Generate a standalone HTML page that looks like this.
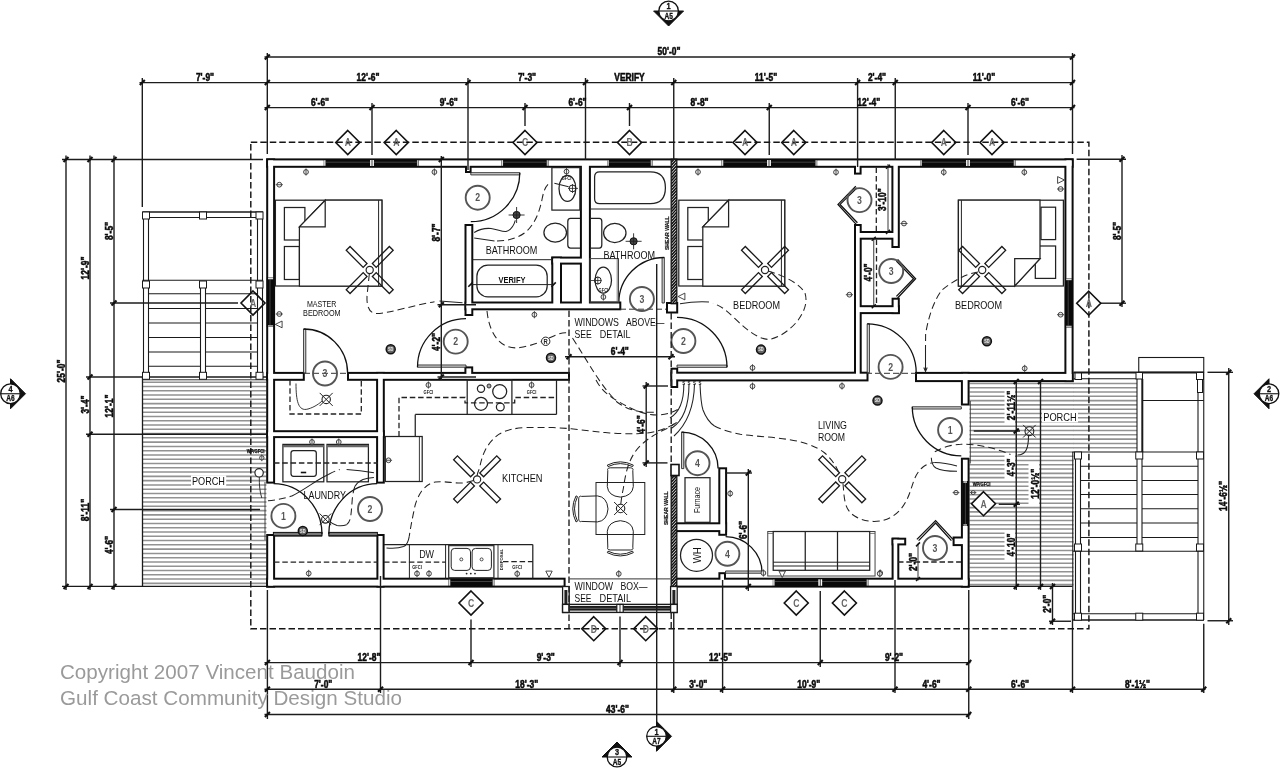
<!DOCTYPE html>
<html><head><meta charset="utf-8"><title>Floor Plan</title>
<style>html,body{margin:0;padding:0;background:#fff;}svg{display:block;will-change:transform;opacity:0.999}text{font-family:"Liberation Sans",sans-serif;}</style>
</head><body>
<svg width="1280" height="768" viewBox="0 0 1280 768">
<rect width="1280" height="768" fill="#fff"/>
<line x1="143" y1="382.2" x2="266.5" y2="382.2" stroke="#929292" stroke-width="1.55" />
<line x1="143" y1="386.48" x2="266.5" y2="386.48" stroke="#929292" stroke-width="1.55" />
<line x1="143" y1="390.76" x2="266.5" y2="390.76" stroke="#929292" stroke-width="1.55" />
<line x1="143" y1="395.04" x2="266.5" y2="395.04" stroke="#929292" stroke-width="1.55" />
<line x1="143" y1="399.32" x2="266.5" y2="399.32" stroke="#929292" stroke-width="1.55" />
<line x1="143" y1="403.6" x2="266.5" y2="403.6" stroke="#929292" stroke-width="1.55" />
<line x1="143" y1="407.88" x2="266.5" y2="407.88" stroke="#929292" stroke-width="1.55" />
<line x1="143" y1="412.16" x2="266.5" y2="412.16" stroke="#929292" stroke-width="1.55" />
<line x1="143" y1="416.44" x2="266.5" y2="416.44" stroke="#929292" stroke-width="1.55" />
<line x1="143" y1="420.72" x2="266.5" y2="420.72" stroke="#929292" stroke-width="1.55" />
<line x1="143" y1="425" x2="266.5" y2="425" stroke="#929292" stroke-width="1.55" />
<line x1="143" y1="429.28" x2="266.5" y2="429.28" stroke="#929292" stroke-width="1.55" />
<line x1="143" y1="433.56" x2="266.5" y2="433.56" stroke="#929292" stroke-width="1.55" />
<line x1="143" y1="437.84" x2="266.5" y2="437.84" stroke="#929292" stroke-width="1.55" />
<line x1="143" y1="442.12" x2="266.5" y2="442.12" stroke="#929292" stroke-width="1.55" />
<line x1="143" y1="446.4" x2="266.5" y2="446.4" stroke="#929292" stroke-width="1.55" />
<line x1="143" y1="450.68" x2="266.5" y2="450.68" stroke="#929292" stroke-width="1.55" />
<line x1="143" y1="454.96" x2="266.5" y2="454.96" stroke="#929292" stroke-width="1.55" />
<line x1="143" y1="459.24" x2="266.5" y2="459.24" stroke="#929292" stroke-width="1.55" />
<line x1="143" y1="463.52" x2="266.5" y2="463.52" stroke="#929292" stroke-width="1.55" />
<line x1="143" y1="467.8" x2="266.5" y2="467.8" stroke="#929292" stroke-width="1.55" />
<line x1="143" y1="472.08" x2="266.5" y2="472.08" stroke="#929292" stroke-width="1.55" />
<line x1="143" y1="476.36" x2="266.5" y2="476.36" stroke="#929292" stroke-width="1.55" />
<line x1="143" y1="480.64" x2="266.5" y2="480.64" stroke="#929292" stroke-width="1.55" />
<line x1="143" y1="484.92" x2="266.5" y2="484.92" stroke="#929292" stroke-width="1.55" />
<line x1="143" y1="489.2" x2="266.5" y2="489.2" stroke="#929292" stroke-width="1.55" />
<line x1="143" y1="493.48" x2="266.5" y2="493.48" stroke="#929292" stroke-width="1.55" />
<line x1="143" y1="497.76" x2="266.5" y2="497.76" stroke="#929292" stroke-width="1.55" />
<line x1="143" y1="502.04" x2="266.5" y2="502.04" stroke="#929292" stroke-width="1.55" />
<line x1="143" y1="506.32" x2="266.5" y2="506.32" stroke="#929292" stroke-width="1.55" />
<line x1="143" y1="510.6" x2="266.5" y2="510.6" stroke="#929292" stroke-width="1.55" />
<line x1="143" y1="514.88" x2="266.5" y2="514.88" stroke="#929292" stroke-width="1.55" />
<line x1="143" y1="519.16" x2="266.5" y2="519.16" stroke="#929292" stroke-width="1.55" />
<line x1="143" y1="523.44" x2="266.5" y2="523.44" stroke="#929292" stroke-width="1.55" />
<line x1="143" y1="527.72" x2="266.5" y2="527.72" stroke="#929292" stroke-width="1.55" />
<line x1="143" y1="532" x2="266.5" y2="532" stroke="#929292" stroke-width="1.55" />
<line x1="143" y1="536.28" x2="266.5" y2="536.28" stroke="#929292" stroke-width="1.55" />
<line x1="143" y1="540.56" x2="266.5" y2="540.56" stroke="#929292" stroke-width="1.55" />
<line x1="143" y1="544.84" x2="266.5" y2="544.84" stroke="#929292" stroke-width="1.55" />
<line x1="143" y1="549.12" x2="266.5" y2="549.12" stroke="#929292" stroke-width="1.55" />
<line x1="143" y1="553.4" x2="266.5" y2="553.4" stroke="#929292" stroke-width="1.55" />
<line x1="143" y1="557.68" x2="266.5" y2="557.68" stroke="#929292" stroke-width="1.55" />
<line x1="143" y1="561.96" x2="266.5" y2="561.96" stroke="#929292" stroke-width="1.55" />
<line x1="143" y1="566.24" x2="266.5" y2="566.24" stroke="#929292" stroke-width="1.55" />
<line x1="143" y1="570.52" x2="266.5" y2="570.52" stroke="#929292" stroke-width="1.55" />
<line x1="143" y1="574.8" x2="266.5" y2="574.8" stroke="#929292" stroke-width="1.55" />
<line x1="143" y1="579.08" x2="266.5" y2="579.08" stroke="#929292" stroke-width="1.55" />
<line x1="143" y1="583.36" x2="266.5" y2="583.36" stroke="#929292" stroke-width="1.55" />
<line x1="969.5" y1="383.48" x2="1073.5" y2="383.48" stroke="#929292" stroke-width="1.55" />
<line x1="969.5" y1="387.76" x2="1073.5" y2="387.76" stroke="#929292" stroke-width="1.55" />
<line x1="969.5" y1="392.04" x2="1073.5" y2="392.04" stroke="#929292" stroke-width="1.55" />
<line x1="969.5" y1="396.32" x2="1073.5" y2="396.32" stroke="#929292" stroke-width="1.55" />
<line x1="969.5" y1="400.6" x2="1073.5" y2="400.6" stroke="#929292" stroke-width="1.55" />
<line x1="969.5" y1="404.88" x2="1073.5" y2="404.88" stroke="#929292" stroke-width="1.55" />
<line x1="969.5" y1="409.16" x2="1073.5" y2="409.16" stroke="#929292" stroke-width="1.55" />
<line x1="969.5" y1="413.44" x2="1073.5" y2="413.44" stroke="#929292" stroke-width="1.55" />
<line x1="969.5" y1="417.72" x2="1073.5" y2="417.72" stroke="#929292" stroke-width="1.55" />
<line x1="969.5" y1="422" x2="1073.5" y2="422" stroke="#929292" stroke-width="1.55" />
<line x1="969.5" y1="426.28" x2="1073.5" y2="426.28" stroke="#929292" stroke-width="1.55" />
<line x1="969.5" y1="430.56" x2="1073.5" y2="430.56" stroke="#929292" stroke-width="1.55" />
<line x1="969.5" y1="434.84" x2="1073.5" y2="434.84" stroke="#929292" stroke-width="1.55" />
<line x1="969.5" y1="439.12" x2="1073.5" y2="439.12" stroke="#929292" stroke-width="1.55" />
<line x1="969.5" y1="443.4" x2="1073.5" y2="443.4" stroke="#929292" stroke-width="1.55" />
<line x1="969.5" y1="447.68" x2="1073.5" y2="447.68" stroke="#929292" stroke-width="1.55" />
<line x1="969.5" y1="451.96" x2="1073.5" y2="451.96" stroke="#929292" stroke-width="1.55" />
<line x1="969.5" y1="456.24" x2="1073.5" y2="456.24" stroke="#929292" stroke-width="1.55" />
<line x1="969.5" y1="460.52" x2="1073.5" y2="460.52" stroke="#929292" stroke-width="1.55" />
<line x1="969.5" y1="464.8" x2="1073.5" y2="464.8" stroke="#929292" stroke-width="1.55" />
<line x1="969.5" y1="469.08" x2="1073.5" y2="469.08" stroke="#929292" stroke-width="1.55" />
<line x1="969.5" y1="473.36" x2="1073.5" y2="473.36" stroke="#929292" stroke-width="1.55" />
<line x1="969.5" y1="477.64" x2="1073.5" y2="477.64" stroke="#929292" stroke-width="1.55" />
<line x1="969.5" y1="481.92" x2="1073.5" y2="481.92" stroke="#929292" stroke-width="1.55" />
<line x1="969.5" y1="486.2" x2="1073.5" y2="486.2" stroke="#929292" stroke-width="1.55" />
<line x1="969.5" y1="490.48" x2="1073.5" y2="490.48" stroke="#929292" stroke-width="1.55" />
<line x1="969.5" y1="494.76" x2="1073.5" y2="494.76" stroke="#929292" stroke-width="1.55" />
<line x1="969.5" y1="499.04" x2="1073.5" y2="499.04" stroke="#929292" stroke-width="1.55" />
<line x1="969.5" y1="503.32" x2="1073.5" y2="503.32" stroke="#929292" stroke-width="1.55" />
<line x1="969.5" y1="507.6" x2="1073.5" y2="507.6" stroke="#929292" stroke-width="1.55" />
<line x1="969.5" y1="511.88" x2="1073.5" y2="511.88" stroke="#929292" stroke-width="1.55" />
<line x1="969.5" y1="516.16" x2="1073.5" y2="516.16" stroke="#929292" stroke-width="1.55" />
<line x1="969.5" y1="520.44" x2="1073.5" y2="520.44" stroke="#929292" stroke-width="1.55" />
<line x1="969.5" y1="524.72" x2="1073.5" y2="524.72" stroke="#929292" stroke-width="1.55" />
<line x1="969.5" y1="529" x2="1073.5" y2="529" stroke="#929292" stroke-width="1.55" />
<line x1="969.5" y1="533.28" x2="1073.5" y2="533.28" stroke="#929292" stroke-width="1.55" />
<line x1="969.5" y1="537.56" x2="1073.5" y2="537.56" stroke="#929292" stroke-width="1.55" />
<line x1="969.5" y1="541.84" x2="1073.5" y2="541.84" stroke="#929292" stroke-width="1.55" />
<line x1="969.5" y1="546.12" x2="1073.5" y2="546.12" stroke="#929292" stroke-width="1.55" />
<line x1="969.5" y1="550.4" x2="1073.5" y2="550.4" stroke="#929292" stroke-width="1.55" />
<line x1="969.5" y1="554.68" x2="1073.5" y2="554.68" stroke="#929292" stroke-width="1.55" />
<line x1="969.5" y1="558.96" x2="1073.5" y2="558.96" stroke="#929292" stroke-width="1.55" />
<line x1="969.5" y1="563.24" x2="1073.5" y2="563.24" stroke="#929292" stroke-width="1.55" />
<line x1="969.5" y1="567.52" x2="1073.5" y2="567.52" stroke="#929292" stroke-width="1.55" />
<line x1="969.5" y1="571.8" x2="1073.5" y2="571.8" stroke="#929292" stroke-width="1.55" />
<line x1="969.5" y1="576.08" x2="1073.5" y2="576.08" stroke="#929292" stroke-width="1.55" />
<line x1="969.5" y1="580.36" x2="1073.5" y2="580.36" stroke="#929292" stroke-width="1.55" />
<line x1="969.5" y1="584.64" x2="1073.5" y2="584.64" stroke="#929292" stroke-width="1.55" />
<line x1="1073" y1="383.48" x2="1137" y2="383.48" stroke="#929292" stroke-width="1.55" />
<line x1="1073" y1="387.76" x2="1137" y2="387.76" stroke="#929292" stroke-width="1.55" />
<line x1="1073" y1="392.04" x2="1137" y2="392.04" stroke="#929292" stroke-width="1.55" />
<line x1="1073" y1="396.32" x2="1137" y2="396.32" stroke="#929292" stroke-width="1.55" />
<line x1="1073" y1="400.6" x2="1137" y2="400.6" stroke="#929292" stroke-width="1.55" />
<line x1="1073" y1="404.88" x2="1137" y2="404.88" stroke="#929292" stroke-width="1.55" />
<line x1="1073" y1="409.16" x2="1137" y2="409.16" stroke="#929292" stroke-width="1.55" />
<line x1="1073" y1="413.44" x2="1137" y2="413.44" stroke="#929292" stroke-width="1.55" />
<line x1="1073" y1="417.72" x2="1137" y2="417.72" stroke="#929292" stroke-width="1.55" />
<line x1="1073" y1="422" x2="1137" y2="422" stroke="#929292" stroke-width="1.55" />
<line x1="1073" y1="426.28" x2="1137" y2="426.28" stroke="#929292" stroke-width="1.55" />
<line x1="1073" y1="430.56" x2="1137" y2="430.56" stroke="#929292" stroke-width="1.55" />
<line x1="1073" y1="434.84" x2="1137" y2="434.84" stroke="#929292" stroke-width="1.55" />
<line x1="1073" y1="439.12" x2="1137" y2="439.12" stroke="#929292" stroke-width="1.55" />
<line x1="1073" y1="443.4" x2="1137" y2="443.4" stroke="#929292" stroke-width="1.55" />
<line x1="1073" y1="447.68" x2="1137" y2="447.68" stroke="#929292" stroke-width="1.55" />
<rect x="191" y="475.3" width="35.2" height="12" rx="0" stroke="none" stroke-width="0" fill="#fff" />
<rect x="1042" y="411" width="36" height="11.5" rx="0" stroke="none" stroke-width="0" fill="#fff" />
<rect x="1004.5" y="389" width="10.5" height="34" rx="0" stroke="none" stroke-width="0" fill="#fff" />
<rect x="1004.5" y="455" width="10.5" height="26" rx="0" stroke="none" stroke-width="0" fill="#fff" />
<rect x="1028.5" y="464" width="10.5" height="41" rx="0" stroke="none" stroke-width="0" fill="#fff" />
<rect x="1004.5" y="530" width="10.5" height="31" rx="0" stroke="none" stroke-width="0" fill="#fff" />
<line x1="142.5" y1="377" x2="142.5" y2="586.5" stroke="#1a1a1a" stroke-width="1.3" />
<line x1="142.5" y1="377" x2="267" y2="377" stroke="#1a1a1a" stroke-width="1.3" />
<line x1="142.5" y1="379.8" x2="267" y2="379.8" stroke="#333" stroke-width="1.0" />
<line x1="62" y1="586.4" x2="267" y2="586.4" stroke="#1a1a1a" stroke-width="1.3" />
<line x1="969" y1="586.4" x2="1072.5" y2="586.4" stroke="#1a1a1a" stroke-width="1.3" />
<text x="191.9" y="484.9" font-size="11.2" font-weight="normal" fill="#111" textLength="33.1" lengthAdjust="spacingAndGlyphs">PORCH</text>
<text x="1043.2" y="420.8" font-size="11.2" font-weight="normal" fill="#111" textLength="33.5" lengthAdjust="spacingAndGlyphs">PORCH</text>
<line x1="143.5" y1="212" x2="143.5" y2="379" stroke="#1a1a1a" stroke-width="1.1" />
<line x1="148.5" y1="212" x2="148.5" y2="379" stroke="#1a1a1a" stroke-width="1.1" />
<line x1="257.5" y1="212" x2="257.5" y2="379" stroke="#1a1a1a" stroke-width="1.1" />
<line x1="262.5" y1="212" x2="262.5" y2="379" stroke="#1a1a1a" stroke-width="1.1" />
<line x1="200.5" y1="281" x2="200.5" y2="379" stroke="#1a1a1a" stroke-width="1.1" />
<line x1="205.5" y1="281" x2="205.5" y2="379" stroke="#1a1a1a" stroke-width="1.1" />
<line x1="142.5" y1="212" x2="263" y2="212" stroke="#1a1a1a" stroke-width="1.6" />
<line x1="142.5" y1="217.5" x2="263" y2="217.5" stroke="#1a1a1a" stroke-width="1.1" />
<line x1="142.5" y1="280.3" x2="263" y2="280.3" stroke="#1a1a1a" stroke-width="1.1" />
<line x1="148.5" y1="293.75" x2="200.5" y2="293.75" stroke="#1a1a1a" stroke-width="1.1" />
<line x1="205.5" y1="293.75" x2="257.5" y2="293.75" stroke="#1a1a1a" stroke-width="1.1" />
<line x1="148.5" y1="308.5" x2="200.5" y2="308.5" stroke="#1a1a1a" stroke-width="1.1" />
<line x1="205.5" y1="308.5" x2="257.5" y2="308.5" stroke="#1a1a1a" stroke-width="1.1" />
<line x1="148.5" y1="323" x2="200.5" y2="323" stroke="#1a1a1a" stroke-width="1.1" />
<line x1="205.5" y1="323" x2="257.5" y2="323" stroke="#1a1a1a" stroke-width="1.1" />
<line x1="148.5" y1="337.5" x2="200.5" y2="337.5" stroke="#1a1a1a" stroke-width="1.1" />
<line x1="205.5" y1="337.5" x2="257.5" y2="337.5" stroke="#1a1a1a" stroke-width="1.1" />
<line x1="148.5" y1="352" x2="200.5" y2="352" stroke="#1a1a1a" stroke-width="1.1" />
<line x1="205.5" y1="352" x2="257.5" y2="352" stroke="#1a1a1a" stroke-width="1.1" />
<line x1="148.5" y1="366.25" x2="200.5" y2="366.25" stroke="#1a1a1a" stroke-width="1.1" />
<line x1="205.5" y1="366.25" x2="257.5" y2="366.25" stroke="#1a1a1a" stroke-width="1.1" />
<rect x="142.5" y="212" width="7" height="7" rx="0" stroke="#1a1a1a" stroke-width="1.0" fill="#fff" />
<rect x="142.5" y="281" width="7" height="7" rx="0" stroke="#1a1a1a" stroke-width="1.0" fill="#fff" />
<rect x="142.5" y="372.3" width="7" height="7" rx="0" stroke="#1a1a1a" stroke-width="1.0" fill="#fff" />
<rect x="199.5" y="212" width="7" height="7" rx="0" stroke="#1a1a1a" stroke-width="1.0" fill="#fff" />
<rect x="199.5" y="281" width="7" height="7" rx="0" stroke="#1a1a1a" stroke-width="1.0" fill="#fff" />
<rect x="199.5" y="372.3" width="7" height="7" rx="0" stroke="#1a1a1a" stroke-width="1.0" fill="#fff" />
<rect x="256" y="212" width="7" height="7" rx="0" stroke="#1a1a1a" stroke-width="1.0" fill="#fff" />
<rect x="256" y="281" width="7" height="7" rx="0" stroke="#1a1a1a" stroke-width="1.0" fill="#fff" />
<rect x="256" y="372.3" width="7" height="7" rx="0" stroke="#1a1a1a" stroke-width="1.0" fill="#fff" />
<rect x="1138.75" y="357.5" width="65" height="14.8" rx="0" stroke="#1a1a1a" stroke-width="1.1" fill="none" />
<line x1="1073.75" y1="372.5" x2="1204" y2="372.5" stroke="#1a1a1a" stroke-width="1.9" />
<line x1="1073.75" y1="378.8" x2="1138" y2="378.8" stroke="#1a1a1a" stroke-width="1.1" />
<line x1="1203.75" y1="372.5" x2="1203.75" y2="620" stroke="#1a1a1a" stroke-width="1.1" />
<line x1="1198" y1="379" x2="1198" y2="620" stroke="#1a1a1a" stroke-width="1.1" />
<rect x="1197.5" y="379" width="5" height="13.5" rx="0" stroke="#1a1a1a" stroke-width="1.0" fill="#fff" />
<line x1="1142.5" y1="400.5" x2="1203.75" y2="400.5" stroke="#1a1a1a" stroke-width="1.1" />
<line x1="1137" y1="379" x2="1137" y2="544" stroke="#1a1a1a" stroke-width="1.1" />
<line x1="1142" y1="379" x2="1142" y2="544" stroke="#1a1a1a" stroke-width="1.1" />
<line x1="1142.5" y1="379" x2="1142.5" y2="452" stroke="#1a1a1a" stroke-width="1.6" />
<line x1="1072.5" y1="452" x2="1203.75" y2="452" stroke="#1a1a1a" stroke-width="1.2" />
<line x1="1075.5" y1="452" x2="1075.5" y2="620" stroke="#1a1a1a" stroke-width="1.1" />
<line x1="1080.5" y1="452" x2="1080.5" y2="620" stroke="#1a1a1a" stroke-width="1.1" />
<line x1="1072.8" y1="452" x2="1072.8" y2="620" stroke="#1a1a1a" stroke-width="1.1" />
<line x1="1080.5" y1="466.25" x2="1137" y2="466.25" stroke="#1a1a1a" stroke-width="1.1" />
<line x1="1142" y1="466.25" x2="1198" y2="466.25" stroke="#1a1a1a" stroke-width="1.1" />
<line x1="1080.5" y1="480.5" x2="1137" y2="480.5" stroke="#1a1a1a" stroke-width="1.1" />
<line x1="1142" y1="480.5" x2="1198" y2="480.5" stroke="#1a1a1a" stroke-width="1.1" />
<line x1="1080.5" y1="494.5" x2="1137" y2="494.5" stroke="#1a1a1a" stroke-width="1.1" />
<line x1="1142" y1="494.5" x2="1198" y2="494.5" stroke="#1a1a1a" stroke-width="1.1" />
<line x1="1080.5" y1="508.75" x2="1137" y2="508.75" stroke="#1a1a1a" stroke-width="1.1" />
<line x1="1142" y1="508.75" x2="1198" y2="508.75" stroke="#1a1a1a" stroke-width="1.1" />
<line x1="1080.5" y1="523" x2="1137" y2="523" stroke="#1a1a1a" stroke-width="1.1" />
<line x1="1142" y1="523" x2="1198" y2="523" stroke="#1a1a1a" stroke-width="1.1" />
<line x1="1080.5" y1="537.5" x2="1137" y2="537.5" stroke="#1a1a1a" stroke-width="1.1" />
<line x1="1142" y1="537.5" x2="1198" y2="537.5" stroke="#1a1a1a" stroke-width="1.1" />
<line x1="1073" y1="551.3" x2="1203.75" y2="551.3" stroke="#1a1a1a" stroke-width="1.1" />
<line x1="1073" y1="613.75" x2="1203.75" y2="613.75" stroke="#1a1a1a" stroke-width="1.1" />
<line x1="1073" y1="620" x2="1203.75" y2="620" stroke="#1a1a1a" stroke-width="1.5" />
<rect x="1074.5" y="452" width="7" height="7" rx="0" stroke="#1a1a1a" stroke-width="1.0" fill="#fff" />
<rect x="1074.5" y="544" width="7" height="7" rx="0" stroke="#1a1a1a" stroke-width="1.0" fill="#fff" />
<rect x="1074.5" y="613.2" width="7" height="7" rx="0" stroke="#1a1a1a" stroke-width="1.0" fill="#fff" />
<rect x="1135.75" y="452" width="7" height="7" rx="0" stroke="#1a1a1a" stroke-width="1.0" fill="#fff" />
<rect x="1135.75" y="544" width="7" height="7" rx="0" stroke="#1a1a1a" stroke-width="1.0" fill="#fff" />
<rect x="1135.75" y="613.2" width="7" height="7" rx="0" stroke="#1a1a1a" stroke-width="1.0" fill="#fff" />
<rect x="1196.5" y="452" width="7" height="7" rx="0" stroke="#1a1a1a" stroke-width="1.0" fill="#fff" />
<rect x="1196.5" y="544" width="7" height="7" rx="0" stroke="#1a1a1a" stroke-width="1.0" fill="#fff" />
<rect x="1196.5" y="613.2" width="7" height="7" rx="0" stroke="#1a1a1a" stroke-width="1.0" fill="#fff" />
<rect x="1075" y="373" width="6.5" height="6.5" rx="0" stroke="#1a1a1a" stroke-width="1.0" fill="#fff" />
<rect x="1136" y="372.5" width="6.5" height="6.5" rx="0" stroke="#1a1a1a" stroke-width="1.0" fill="#fff" />
<rect x="1196.5" y="372.5" width="7" height="7" rx="0" stroke="#1a1a1a" stroke-width="1.0" fill="#fff" />
<rect x="268.2" y="160.4" width="803.4" height="5.4" rx="0" stroke="#0c0c0c" stroke-width="4.0" fill="none" />
<rect x="268.2" y="160.4" width="4.9" height="321.2" rx="0" stroke="#0c0c0c" stroke-width="4.0" fill="none" />
<rect x="268.2" y="536" width="4.9" height="49.6" rx="0" stroke="#0c0c0c" stroke-width="4.0" fill="none" />
<rect x="268.2" y="579.7" width="295.4" height="5.9" rx="0" stroke="#0c0c0c" stroke-width="4.0" fill="none" />
<rect x="677" y="579.7" width="290.6" height="5.9" rx="0" stroke="#0c0c0c" stroke-width="4.0" fill="none" />
<rect x="1066.4" y="160.4" width="5.2" height="219.7" rx="0" stroke="#0c0c0c" stroke-width="4.0" fill="none" />
<rect x="917" y="373.9" width="154.6" height="6.2" rx="0" stroke="#0c0c0c" stroke-width="4.0" fill="none" />
<rect x="962.9" y="373.9" width="4.7" height="29.6" rx="0" stroke="#0c0c0c" stroke-width="4.0" fill="none" />
<rect x="962.9" y="459.7" width="4.7" height="125.9" rx="0" stroke="#0c0c0c" stroke-width="4.0" fill="none" />
<rect x="466.5" y="226" width="4.8" height="88" rx="0" stroke="#0c0c0c" stroke-width="4.0" fill="none" />
<rect x="467" y="165" width="2.6" height="6" rx="0" stroke="#0c0c0c" stroke-width="4.0" fill="none" />
<rect x="466.5" y="303.5" width="152.8" height="4.8" rx="0" stroke="#0c0c0c" stroke-width="4.0" fill="none" />
<rect x="581.9" y="165" width="7" height="139" rx="0" stroke="#0c0c0c" stroke-width="4.0" fill="none" />
<rect x="553.3" y="258.6" width="6.7" height="45.4" rx="0" stroke="#0c0c0c" stroke-width="4.0" fill="none" />
<rect x="553.3" y="258.6" width="28.7" height="4" rx="0" stroke="#0c0c0c" stroke-width="4.0" fill="none" />
<rect x="466.4" y="368.4" width="4.8" height="6.1" rx="0" stroke="#0c0c0c" stroke-width="4.0" fill="none" />
<rect x="856" y="165" width="3.6" height="7.6" rx="0" stroke="#0c0c0c" stroke-width="4.0" fill="none" />
<rect x="856" y="226" width="3.7" height="148.5" rx="0" stroke="#0c0c0c" stroke-width="4.0" fill="none" />
<rect x="856" y="233" width="38" height="4.7" rx="0" stroke="#0c0c0c" stroke-width="4.0" fill="none" />
<rect x="893.4" y="165" width="4.4" height="81" rx="0" stroke="#0c0c0c" stroke-width="4.0" fill="none" />
<rect x="856" y="307.2" width="41.8" height="4.9" rx="0" stroke="#0c0c0c" stroke-width="4.0" fill="none" />
<rect x="893.6" y="299.7" width="4.2" height="12.4" rx="0" stroke="#0c0c0c" stroke-width="4.0" fill="none" />
<rect x="268.2" y="373.9" width="34.6" height="4.9" rx="0" stroke="#0c0c0c" stroke-width="4.0" fill="none" />
<rect x="349" y="373.9" width="219" height="4.9" rx="0" stroke="#0c0c0c" stroke-width="4.0" fill="none" />
<rect x="672.5" y="373.7" width="194" height="5.7" rx="0" stroke="#0c0c0c" stroke-width="4.0" fill="none" />
<rect x="672.5" y="369.7" width="3.7" height="16.3" rx="0" stroke="#0c0c0c" stroke-width="4.0" fill="none" />
<rect x="378.1" y="373.9" width="4.7" height="107.7" rx="0" stroke="#0c0c0c" stroke-width="4.0" fill="none" />
<rect x="268.2" y="432.2" width="114.6" height="3.9" rx="0" stroke="#0c0c0c" stroke-width="4.0" fill="none" />
<rect x="378.4" y="536" width="4.2" height="49.6" rx="0" stroke="#0c0c0c" stroke-width="4.0" fill="none" />
<rect x="720.3" y="469.3" width="4.8" height="64.5" rx="0" stroke="#0c0c0c" stroke-width="4.0" fill="none" />
<rect x="677" y="524.3" width="48.1" height="5.8" rx="0" stroke="#0c0c0c" stroke-width="4.0" fill="none" />
<rect x="720.4" y="574.2" width="3.6" height="6.3" rx="0" stroke="#0c0c0c" stroke-width="4.0" fill="none" />
<rect x="893.6" y="539.7" width="3.7" height="40.8" rx="0" stroke="#0c0c0c" stroke-width="4.0" fill="none" />
<rect x="893.6" y="539.7" width="10.6" height="3.7" rx="0" stroke="#0c0c0c" stroke-width="4.0" fill="none" />
<rect x="954.6" y="538.5" width="8.9" height="5.6" rx="0" stroke="#0c0c0c" stroke-width="4.0" fill="none" />
<rect x="668" y="304" width="8.2" height="7.5" rx="0" stroke="#0c0c0c" stroke-width="4.0" fill="none" />
<rect x="268.2" y="160.4" width="803.4" height="5.4" rx="0" stroke="none" stroke-width="0" fill="#fff" />
<rect x="268.2" y="160.4" width="4.9" height="321.2" rx="0" stroke="none" stroke-width="0" fill="#fff" />
<rect x="268.2" y="536" width="4.9" height="49.6" rx="0" stroke="none" stroke-width="0" fill="#fff" />
<rect x="268.2" y="579.7" width="295.4" height="5.9" rx="0" stroke="none" stroke-width="0" fill="#fff" />
<rect x="677" y="579.7" width="290.6" height="5.9" rx="0" stroke="none" stroke-width="0" fill="#fff" />
<rect x="1066.4" y="160.4" width="5.2" height="219.7" rx="0" stroke="none" stroke-width="0" fill="#fff" />
<rect x="917" y="373.9" width="154.6" height="6.2" rx="0" stroke="none" stroke-width="0" fill="#fff" />
<rect x="962.9" y="373.9" width="4.7" height="29.6" rx="0" stroke="none" stroke-width="0" fill="#fff" />
<rect x="962.9" y="459.7" width="4.7" height="125.9" rx="0" stroke="none" stroke-width="0" fill="#fff" />
<rect x="466.5" y="226" width="4.8" height="88" rx="0" stroke="none" stroke-width="0" fill="#fff" />
<rect x="467" y="165" width="2.6" height="6" rx="0" stroke="none" stroke-width="0" fill="#fff" />
<rect x="466.5" y="303.5" width="152.8" height="4.8" rx="0" stroke="none" stroke-width="0" fill="#fff" />
<rect x="581.9" y="165" width="7" height="139" rx="0" stroke="none" stroke-width="0" fill="#fff" />
<rect x="553.3" y="258.6" width="6.7" height="45.4" rx="0" stroke="none" stroke-width="0" fill="#fff" />
<rect x="553.3" y="258.6" width="28.7" height="4" rx="0" stroke="none" stroke-width="0" fill="#fff" />
<rect x="466.4" y="368.4" width="4.8" height="6.1" rx="0" stroke="none" stroke-width="0" fill="#fff" />
<rect x="856" y="165" width="3.6" height="7.6" rx="0" stroke="none" stroke-width="0" fill="#fff" />
<rect x="856" y="226" width="3.7" height="148.5" rx="0" stroke="none" stroke-width="0" fill="#fff" />
<rect x="856" y="233" width="38" height="4.7" rx="0" stroke="none" stroke-width="0" fill="#fff" />
<rect x="893.4" y="165" width="4.4" height="81" rx="0" stroke="none" stroke-width="0" fill="#fff" />
<rect x="856" y="307.2" width="41.8" height="4.9" rx="0" stroke="none" stroke-width="0" fill="#fff" />
<rect x="893.6" y="299.7" width="4.2" height="12.4" rx="0" stroke="none" stroke-width="0" fill="#fff" />
<rect x="268.2" y="373.9" width="34.6" height="4.9" rx="0" stroke="none" stroke-width="0" fill="#fff" />
<rect x="349" y="373.9" width="219" height="4.9" rx="0" stroke="none" stroke-width="0" fill="#fff" />
<rect x="672.5" y="373.7" width="194" height="5.7" rx="0" stroke="none" stroke-width="0" fill="#fff" />
<rect x="672.5" y="369.7" width="3.7" height="16.3" rx="0" stroke="none" stroke-width="0" fill="#fff" />
<rect x="378.1" y="373.9" width="4.7" height="107.7" rx="0" stroke="none" stroke-width="0" fill="#fff" />
<rect x="268.2" y="432.2" width="114.6" height="3.9" rx="0" stroke="none" stroke-width="0" fill="#fff" />
<rect x="378.4" y="536" width="4.2" height="49.6" rx="0" stroke="none" stroke-width="0" fill="#fff" />
<rect x="720.3" y="469.3" width="4.8" height="64.5" rx="0" stroke="none" stroke-width="0" fill="#fff" />
<rect x="677" y="524.3" width="48.1" height="5.8" rx="0" stroke="none" stroke-width="0" fill="#fff" />
<rect x="720.4" y="574.2" width="3.6" height="6.3" rx="0" stroke="none" stroke-width="0" fill="#fff" />
<rect x="893.6" y="539.7" width="3.7" height="40.8" rx="0" stroke="none" stroke-width="0" fill="#fff" />
<rect x="893.6" y="539.7" width="10.6" height="3.7" rx="0" stroke="none" stroke-width="0" fill="#fff" />
<rect x="954.6" y="538.5" width="8.9" height="5.6" rx="0" stroke="none" stroke-width="0" fill="#fff" />
<rect x="668" y="304" width="8.2" height="7.5" rx="0" stroke="none" stroke-width="0" fill="#fff" />
<rect x="671.2" y="159.3" width="5.6" height="144.4" rx="0" stroke="#111" stroke-width="1.3" fill="#fff" />
<clipPath id="c671_159"><rect x="671.2" y="159.3" width="5.6" height="144.4"/></clipPath>
<line x1="671.2" y1="159.3" x2="676.8" y2="153.14" stroke="#111" stroke-width="1.5" clip-path="url(#c671_159)"/>
<line x1="671.2" y1="162.4" x2="676.8" y2="156.24" stroke="#111" stroke-width="1.5" clip-path="url(#c671_159)"/>
<line x1="671.2" y1="165.5" x2="676.8" y2="159.34" stroke="#111" stroke-width="1.5" clip-path="url(#c671_159)"/>
<line x1="671.2" y1="168.6" x2="676.8" y2="162.44" stroke="#111" stroke-width="1.5" clip-path="url(#c671_159)"/>
<line x1="671.2" y1="171.7" x2="676.8" y2="165.54" stroke="#111" stroke-width="1.5" clip-path="url(#c671_159)"/>
<line x1="671.2" y1="174.8" x2="676.8" y2="168.64" stroke="#111" stroke-width="1.5" clip-path="url(#c671_159)"/>
<line x1="671.2" y1="177.9" x2="676.8" y2="171.74" stroke="#111" stroke-width="1.5" clip-path="url(#c671_159)"/>
<line x1="671.2" y1="181" x2="676.8" y2="174.84" stroke="#111" stroke-width="1.5" clip-path="url(#c671_159)"/>
<line x1="671.2" y1="184.1" x2="676.8" y2="177.94" stroke="#111" stroke-width="1.5" clip-path="url(#c671_159)"/>
<line x1="671.2" y1="187.2" x2="676.8" y2="181.04" stroke="#111" stroke-width="1.5" clip-path="url(#c671_159)"/>
<line x1="671.2" y1="190.3" x2="676.8" y2="184.14" stroke="#111" stroke-width="1.5" clip-path="url(#c671_159)"/>
<line x1="671.2" y1="193.4" x2="676.8" y2="187.24" stroke="#111" stroke-width="1.5" clip-path="url(#c671_159)"/>
<line x1="671.2" y1="196.5" x2="676.8" y2="190.34" stroke="#111" stroke-width="1.5" clip-path="url(#c671_159)"/>
<line x1="671.2" y1="199.6" x2="676.8" y2="193.44" stroke="#111" stroke-width="1.5" clip-path="url(#c671_159)"/>
<line x1="671.2" y1="202.7" x2="676.8" y2="196.54" stroke="#111" stroke-width="1.5" clip-path="url(#c671_159)"/>
<line x1="671.2" y1="205.8" x2="676.8" y2="199.64" stroke="#111" stroke-width="1.5" clip-path="url(#c671_159)"/>
<line x1="671.2" y1="208.9" x2="676.8" y2="202.74" stroke="#111" stroke-width="1.5" clip-path="url(#c671_159)"/>
<line x1="671.2" y1="212" x2="676.8" y2="205.84" stroke="#111" stroke-width="1.5" clip-path="url(#c671_159)"/>
<line x1="671.2" y1="215.1" x2="676.8" y2="208.94" stroke="#111" stroke-width="1.5" clip-path="url(#c671_159)"/>
<line x1="671.2" y1="218.2" x2="676.8" y2="212.04" stroke="#111" stroke-width="1.5" clip-path="url(#c671_159)"/>
<line x1="671.2" y1="221.3" x2="676.8" y2="215.14" stroke="#111" stroke-width="1.5" clip-path="url(#c671_159)"/>
<line x1="671.2" y1="224.4" x2="676.8" y2="218.24" stroke="#111" stroke-width="1.5" clip-path="url(#c671_159)"/>
<line x1="671.2" y1="227.5" x2="676.8" y2="221.34" stroke="#111" stroke-width="1.5" clip-path="url(#c671_159)"/>
<line x1="671.2" y1="230.6" x2="676.8" y2="224.44" stroke="#111" stroke-width="1.5" clip-path="url(#c671_159)"/>
<line x1="671.2" y1="233.7" x2="676.8" y2="227.54" stroke="#111" stroke-width="1.5" clip-path="url(#c671_159)"/>
<line x1="671.2" y1="236.8" x2="676.8" y2="230.64" stroke="#111" stroke-width="1.5" clip-path="url(#c671_159)"/>
<line x1="671.2" y1="239.9" x2="676.8" y2="233.74" stroke="#111" stroke-width="1.5" clip-path="url(#c671_159)"/>
<line x1="671.2" y1="243" x2="676.8" y2="236.84" stroke="#111" stroke-width="1.5" clip-path="url(#c671_159)"/>
<line x1="671.2" y1="246.1" x2="676.8" y2="239.94" stroke="#111" stroke-width="1.5" clip-path="url(#c671_159)"/>
<line x1="671.2" y1="249.2" x2="676.8" y2="243.04" stroke="#111" stroke-width="1.5" clip-path="url(#c671_159)"/>
<line x1="671.2" y1="252.3" x2="676.8" y2="246.14" stroke="#111" stroke-width="1.5" clip-path="url(#c671_159)"/>
<line x1="671.2" y1="255.4" x2="676.8" y2="249.24" stroke="#111" stroke-width="1.5" clip-path="url(#c671_159)"/>
<line x1="671.2" y1="258.5" x2="676.8" y2="252.34" stroke="#111" stroke-width="1.5" clip-path="url(#c671_159)"/>
<line x1="671.2" y1="261.6" x2="676.8" y2="255.44" stroke="#111" stroke-width="1.5" clip-path="url(#c671_159)"/>
<line x1="671.2" y1="264.7" x2="676.8" y2="258.54" stroke="#111" stroke-width="1.5" clip-path="url(#c671_159)"/>
<line x1="671.2" y1="267.8" x2="676.8" y2="261.64" stroke="#111" stroke-width="1.5" clip-path="url(#c671_159)"/>
<line x1="671.2" y1="270.9" x2="676.8" y2="264.74" stroke="#111" stroke-width="1.5" clip-path="url(#c671_159)"/>
<line x1="671.2" y1="274" x2="676.8" y2="267.84" stroke="#111" stroke-width="1.5" clip-path="url(#c671_159)"/>
<line x1="671.2" y1="277.1" x2="676.8" y2="270.94" stroke="#111" stroke-width="1.5" clip-path="url(#c671_159)"/>
<line x1="671.2" y1="280.2" x2="676.8" y2="274.04" stroke="#111" stroke-width="1.5" clip-path="url(#c671_159)"/>
<line x1="671.2" y1="283.3" x2="676.8" y2="277.14" stroke="#111" stroke-width="1.5" clip-path="url(#c671_159)"/>
<line x1="671.2" y1="286.4" x2="676.8" y2="280.24" stroke="#111" stroke-width="1.5" clip-path="url(#c671_159)"/>
<line x1="671.2" y1="289.5" x2="676.8" y2="283.34" stroke="#111" stroke-width="1.5" clip-path="url(#c671_159)"/>
<line x1="671.2" y1="292.6" x2="676.8" y2="286.44" stroke="#111" stroke-width="1.5" clip-path="url(#c671_159)"/>
<line x1="671.2" y1="295.7" x2="676.8" y2="289.54" stroke="#111" stroke-width="1.5" clip-path="url(#c671_159)"/>
<line x1="671.2" y1="298.8" x2="676.8" y2="292.64" stroke="#111" stroke-width="1.5" clip-path="url(#c671_159)"/>
<line x1="671.2" y1="301.9" x2="676.8" y2="295.74" stroke="#111" stroke-width="1.5" clip-path="url(#c671_159)"/>
<line x1="671.2" y1="305" x2="676.8" y2="298.84" stroke="#111" stroke-width="1.5" clip-path="url(#c671_159)"/>
<line x1="671.2" y1="308.1" x2="676.8" y2="301.94" stroke="#111" stroke-width="1.5" clip-path="url(#c671_159)"/>
<rect x="671.2" y="476" width="5.6" height="110.5" rx="0" stroke="#111" stroke-width="1.3" fill="#fff" />
<clipPath id="c671_476"><rect x="671.2" y="476" width="5.6" height="110.5"/></clipPath>
<line x1="671.2" y1="476" x2="676.8" y2="469.84" stroke="#111" stroke-width="1.5" clip-path="url(#c671_476)"/>
<line x1="671.2" y1="479.1" x2="676.8" y2="472.94" stroke="#111" stroke-width="1.5" clip-path="url(#c671_476)"/>
<line x1="671.2" y1="482.2" x2="676.8" y2="476.04" stroke="#111" stroke-width="1.5" clip-path="url(#c671_476)"/>
<line x1="671.2" y1="485.3" x2="676.8" y2="479.14" stroke="#111" stroke-width="1.5" clip-path="url(#c671_476)"/>
<line x1="671.2" y1="488.4" x2="676.8" y2="482.24" stroke="#111" stroke-width="1.5" clip-path="url(#c671_476)"/>
<line x1="671.2" y1="491.5" x2="676.8" y2="485.34" stroke="#111" stroke-width="1.5" clip-path="url(#c671_476)"/>
<line x1="671.2" y1="494.6" x2="676.8" y2="488.44" stroke="#111" stroke-width="1.5" clip-path="url(#c671_476)"/>
<line x1="671.2" y1="497.7" x2="676.8" y2="491.54" stroke="#111" stroke-width="1.5" clip-path="url(#c671_476)"/>
<line x1="671.2" y1="500.8" x2="676.8" y2="494.64" stroke="#111" stroke-width="1.5" clip-path="url(#c671_476)"/>
<line x1="671.2" y1="503.9" x2="676.8" y2="497.74" stroke="#111" stroke-width="1.5" clip-path="url(#c671_476)"/>
<line x1="671.2" y1="507" x2="676.8" y2="500.84" stroke="#111" stroke-width="1.5" clip-path="url(#c671_476)"/>
<line x1="671.2" y1="510.1" x2="676.8" y2="503.94" stroke="#111" stroke-width="1.5" clip-path="url(#c671_476)"/>
<line x1="671.2" y1="513.2" x2="676.8" y2="507.04" stroke="#111" stroke-width="1.5" clip-path="url(#c671_476)"/>
<line x1="671.2" y1="516.3" x2="676.8" y2="510.14" stroke="#111" stroke-width="1.5" clip-path="url(#c671_476)"/>
<line x1="671.2" y1="519.4" x2="676.8" y2="513.24" stroke="#111" stroke-width="1.5" clip-path="url(#c671_476)"/>
<line x1="671.2" y1="522.5" x2="676.8" y2="516.34" stroke="#111" stroke-width="1.5" clip-path="url(#c671_476)"/>
<line x1="671.2" y1="525.6" x2="676.8" y2="519.44" stroke="#111" stroke-width="1.5" clip-path="url(#c671_476)"/>
<line x1="671.2" y1="528.7" x2="676.8" y2="522.54" stroke="#111" stroke-width="1.5" clip-path="url(#c671_476)"/>
<line x1="671.2" y1="531.8" x2="676.8" y2="525.64" stroke="#111" stroke-width="1.5" clip-path="url(#c671_476)"/>
<line x1="671.2" y1="534.9" x2="676.8" y2="528.74" stroke="#111" stroke-width="1.5" clip-path="url(#c671_476)"/>
<line x1="671.2" y1="538" x2="676.8" y2="531.84" stroke="#111" stroke-width="1.5" clip-path="url(#c671_476)"/>
<line x1="671.2" y1="541.1" x2="676.8" y2="534.94" stroke="#111" stroke-width="1.5" clip-path="url(#c671_476)"/>
<line x1="671.2" y1="544.2" x2="676.8" y2="538.04" stroke="#111" stroke-width="1.5" clip-path="url(#c671_476)"/>
<line x1="671.2" y1="547.3" x2="676.8" y2="541.14" stroke="#111" stroke-width="1.5" clip-path="url(#c671_476)"/>
<line x1="671.2" y1="550.4" x2="676.8" y2="544.24" stroke="#111" stroke-width="1.5" clip-path="url(#c671_476)"/>
<line x1="671.2" y1="553.5" x2="676.8" y2="547.34" stroke="#111" stroke-width="1.5" clip-path="url(#c671_476)"/>
<line x1="671.2" y1="556.6" x2="676.8" y2="550.44" stroke="#111" stroke-width="1.5" clip-path="url(#c671_476)"/>
<line x1="671.2" y1="559.7" x2="676.8" y2="553.54" stroke="#111" stroke-width="1.5" clip-path="url(#c671_476)"/>
<line x1="671.2" y1="562.8" x2="676.8" y2="556.64" stroke="#111" stroke-width="1.5" clip-path="url(#c671_476)"/>
<line x1="671.2" y1="565.9" x2="676.8" y2="559.74" stroke="#111" stroke-width="1.5" clip-path="url(#c671_476)"/>
<line x1="671.2" y1="569" x2="676.8" y2="562.84" stroke="#111" stroke-width="1.5" clip-path="url(#c671_476)"/>
<line x1="671.2" y1="572.1" x2="676.8" y2="565.94" stroke="#111" stroke-width="1.5" clip-path="url(#c671_476)"/>
<line x1="671.2" y1="575.2" x2="676.8" y2="569.04" stroke="#111" stroke-width="1.5" clip-path="url(#c671_476)"/>
<line x1="671.2" y1="578.3" x2="676.8" y2="572.14" stroke="#111" stroke-width="1.5" clip-path="url(#c671_476)"/>
<line x1="671.2" y1="581.4" x2="676.8" y2="575.24" stroke="#111" stroke-width="1.5" clip-path="url(#c671_476)"/>
<line x1="671.2" y1="584.5" x2="676.8" y2="578.34" stroke="#111" stroke-width="1.5" clip-path="url(#c671_476)"/>
<line x1="671.2" y1="587.6" x2="676.8" y2="581.44" stroke="#111" stroke-width="1.5" clip-path="url(#c671_476)"/>
<line x1="671.2" y1="590.7" x2="676.8" y2="584.54" stroke="#111" stroke-width="1.5" clip-path="url(#c671_476)"/>
<rect x="671" y="464.5" width="8" height="11" rx="0" stroke="#111" stroke-width="1.6" fill="#fff" />
<rect x="273.4" y="532.4" width="48.6" height="3.4" rx="0" stroke="#111" stroke-width="1.0" fill="#777" />
<rect x="328.8" y="532.4" width="48.6" height="3.4" rx="0" stroke="#111" stroke-width="1.0" fill="#777" />
<line x1="273.4" y1="536" x2="322" y2="536" stroke="#111" stroke-width="1.0" />
<line x1="328.8" y1="536" x2="377.4" y2="536" stroke="#111" stroke-width="1.0" />
<rect x="323.75" y="159" width="95" height="8" rx="0" stroke="none" stroke-width="0" fill="#0a0a0a" />
<line x1="325.75" y1="162.2" x2="416.75" y2="162.2" stroke="#666" stroke-width="0.6" />
<rect x="324.05" y="160.2" width="1.5" height="5.6" rx="0" stroke="none" stroke-width="0" fill="#ddd" />
<rect x="416.95" y="160.2" width="1.5" height="5.6" rx="0" stroke="none" stroke-width="0" fill="#bbb" />
<rect x="370.1" y="160" width="3.8" height="6" rx="0" stroke="none" stroke-width="0" fill="#fff" />
<line x1="372" y1="159.6" x2="372" y2="166.6" stroke="#222" stroke-width="0.9" />
<rect x="501.25" y="159" width="47.25" height="8" rx="0" stroke="none" stroke-width="0" fill="#0a0a0a" />
<line x1="503.25" y1="162.2" x2="546.5" y2="162.2" stroke="#666" stroke-width="0.6" />
<rect x="501.55" y="160.2" width="1.5" height="5.6" rx="0" stroke="none" stroke-width="0" fill="#ddd" />
<rect x="546.7" y="160.2" width="1.5" height="5.6" rx="0" stroke="none" stroke-width="0" fill="#bbb" />
<rect x="607" y="159" width="45.5" height="8" rx="0" stroke="none" stroke-width="0" fill="#0a0a0a" />
<line x1="609" y1="162.2" x2="650.5" y2="162.2" stroke="#666" stroke-width="0.6" />
<rect x="607.3" y="160.2" width="1.5" height="5.6" rx="0" stroke="none" stroke-width="0" fill="#ddd" />
<rect x="650.7" y="160.2" width="1.5" height="5.6" rx="0" stroke="none" stroke-width="0" fill="#bbb" />
<rect x="721.5" y="159" width="95.7" height="8" rx="0" stroke="none" stroke-width="0" fill="#0a0a0a" />
<line x1="723.5" y1="162.2" x2="815.2" y2="162.2" stroke="#666" stroke-width="0.6" />
<rect x="721.8" y="160.2" width="1.5" height="5.6" rx="0" stroke="none" stroke-width="0" fill="#ddd" />
<rect x="815.4" y="160.2" width="1.5" height="5.6" rx="0" stroke="none" stroke-width="0" fill="#bbb" />
<rect x="767.1" y="160" width="3.8" height="6" rx="0" stroke="none" stroke-width="0" fill="#fff" />
<line x1="769" y1="159.6" x2="769" y2="166.6" stroke="#222" stroke-width="0.9" />
<rect x="920" y="159" width="95.5" height="8" rx="0" stroke="none" stroke-width="0" fill="#0a0a0a" />
<line x1="922" y1="162.2" x2="1013.5" y2="162.2" stroke="#666" stroke-width="0.6" />
<rect x="920.3" y="160.2" width="1.5" height="5.6" rx="0" stroke="none" stroke-width="0" fill="#ddd" />
<rect x="1013.7" y="160.2" width="1.5" height="5.6" rx="0" stroke="none" stroke-width="0" fill="#bbb" />
<rect x="966.1" y="160" width="3.8" height="6" rx="0" stroke="none" stroke-width="0" fill="#fff" />
<line x1="968" y1="159.6" x2="968" y2="166.6" stroke="#222" stroke-width="0.9" />
<rect x="448.5" y="578.3" width="45.9" height="8.5" rx="0" stroke="none" stroke-width="0" fill="#0a0a0a" />
<line x1="450.5" y1="581.5" x2="492.4" y2="581.5" stroke="#666" stroke-width="0.6" />
<rect x="448.8" y="579.5" width="1.5" height="6.1" rx="0" stroke="none" stroke-width="0" fill="#ddd" />
<rect x="492.6" y="579.5" width="1.5" height="6.1" rx="0" stroke="none" stroke-width="0" fill="#bbb" />
<rect x="772.8" y="578.3" width="95.6" height="8.5" rx="0" stroke="none" stroke-width="0" fill="#0a0a0a" />
<line x1="774.8" y1="581.5" x2="866.4" y2="581.5" stroke="#666" stroke-width="0.6" />
<rect x="773.1" y="579.5" width="1.5" height="6.1" rx="0" stroke="none" stroke-width="0" fill="#ddd" />
<rect x="866.6" y="579.5" width="1.5" height="6.1" rx="0" stroke="none" stroke-width="0" fill="#bbb" />
<rect x="818.35" y="579.3" width="3.8" height="6.5" rx="0" stroke="none" stroke-width="0" fill="#fff" />
<line x1="820.25" y1="578.9" x2="820.25" y2="586.4" stroke="#222" stroke-width="0.9" />
<rect x="266.8" y="277.5" width="7.5" height="49.5" rx="0" stroke="none" stroke-width="0" fill="#0a0a0a" />
<line x1="270" y1="279.5" x2="270" y2="325" stroke="#666" stroke-width="0.6" />
<rect x="268" y="277.8" width="5.1" height="1.5" rx="0" stroke="none" stroke-width="0" fill="#ddd" />
<rect x="268" y="325.2" width="5.1" height="1.5" rx="0" stroke="none" stroke-width="0" fill="#bbb" />
<rect x="1065" y="278.4" width="7.8" height="49.1" rx="0" stroke="none" stroke-width="0" fill="#0a0a0a" />
<line x1="1068.2" y1="280.4" x2="1068.2" y2="325.5" stroke="#666" stroke-width="0.6" />
<rect x="1066.2" y="278.7" width="5.4" height="1.5" rx="0" stroke="none" stroke-width="0" fill="#ddd" />
<rect x="1066.2" y="325.7" width="5.4" height="1.5" rx="0" stroke="none" stroke-width="0" fill="#bbb" />
<rect x="962.2" y="481" width="6" height="45" rx="0" stroke="none" stroke-width="0" fill="#0a0a0a" />
<line x1="965.4" y1="483" x2="965.4" y2="524" stroke="#666" stroke-width="0.6" />
<rect x="963.4" y="481.3" width="3.6" height="1.5" rx="0" stroke="none" stroke-width="0" fill="#ddd" />
<rect x="963.4" y="524.2" width="3.6" height="1.5" rx="0" stroke="none" stroke-width="0" fill="#bbb" />
<rect x="562.6" y="586.5" width="6.6" height="26" rx="0" stroke="#1a1a1a" stroke-width="1.3" fill="#fff" />
<rect x="670.6" y="586.5" width="6.6" height="26" rx="0" stroke="#1a1a1a" stroke-width="1.3" fill="#fff" />
<rect x="564.4" y="590" width="3" height="14" rx="0" stroke="none" stroke-width="0" fill="#222" />
<rect x="672.4" y="590" width="3" height="14" rx="0" stroke="none" stroke-width="0" fill="#222" />
<rect x="562.6" y="604.4" width="114.6" height="8" rx="0" stroke="#1a1a1a" stroke-width="1.4" fill="#fff" />
<rect x="569.5" y="606" width="100.5" height="4.6" rx="0" stroke="none" stroke-width="0" fill="#1a1a1a" />
<line x1="569.5" y1="608.3" x2="670" y2="608.3" stroke="#aaa" stroke-width="0.5" />
<rect x="562.6" y="604.4" width="6.6" height="8" rx="0" stroke="#1a1a1a" stroke-width="1.3" fill="#fff" />
<rect x="670.6" y="604.4" width="6.6" height="8" rx="0" stroke="#1a1a1a" stroke-width="1.3" fill="#fff" />
<rect x="616.8" y="604.4" width="6.4" height="8" rx="0" stroke="#1a1a1a" stroke-width="1.2" fill="#fff" />
<line x1="620" y1="604.4" x2="620" y2="612.4" stroke="#1a1a1a" stroke-width="0.9" />
<line x1="569.4" y1="578.9" x2="670.6" y2="578.9" stroke="#333" stroke-width="1.0" />
<path d="M470.8 172.7 L519.8 172.7 L519.8 174.9 L470.8 174.9 Z" stroke="#222" stroke-width="0.9" fill="#ddd" />
<path d="M519.8 172.7 A49 49 0 0 1 470.8 221.7" stroke="#111" stroke-width="1.3" fill="none" />
<path d="M466 367.2 L417.5 367.2 L417.5 365 L466 365 Z" stroke="#222" stroke-width="0.9" fill="#ddd" />
<path d="M417.5 367.2 A48.5 48.5 0 0 1 466 318.7" stroke="#111" stroke-width="1.3" fill="none" />
<path d="M303.6 373 L303.6 329 L305.8 329 L305.8 373 Z" stroke="#222" stroke-width="0.9" fill="#ddd" />
<path d="M303.6 329 A44 44 0 0 1 347.6 373" stroke="#111" stroke-width="1.3" fill="none" />
<path d="M664.3 303 L664.3 257.5 L662.1 257.5 L662.1 303 Z" stroke="#222" stroke-width="0.9" fill="#ddd" />
<path d="M664.3 257.5 A45.5 45.5 0 0 0 618.8 303" stroke="#111" stroke-width="1.3" fill="none" />
<path d="M677 367.3 L727 367.3 L727 365.1 L677 365.1 Z" stroke="#222" stroke-width="0.9" fill="#ddd" />
<path d="M727 367.3 A50 50 0 0 0 677 317.3" stroke="#111" stroke-width="1.3" fill="none" />
<path d="M867.2 372.8 L867.2 323.8 L869.4 323.8 L869.4 372.8 Z" stroke="#222" stroke-width="0.9" fill="#ddd" />
<path d="M867.2 323.8 A49 49 0 0 1 916.2 372.8" stroke="#111" stroke-width="1.3" fill="none" />
<path d="M961.3 406.8 L912.3 406.8 L912.3 409 L961.3 409 Z" stroke="#222" stroke-width="0.9" fill="#ddd" />
<path d="M912.3 406.8 A49 49 0 0 0 961.3 455.8" stroke="#111" stroke-width="1.3" fill="none" />
<path d="M273.6 483.7 A48.6 50.6 0 0 1 322 534.3" stroke="#111" stroke-width="1.3" fill="none" />
<path d="M377.2 483.7 A48.6 50.6 0 0 0 328.8 534.3" stroke="#111" stroke-width="1.3" fill="none" />
<path d="M681.6 468.6 L681.6 432.1 L683.8 432.1 L683.8 468.6 Z" stroke="#222" stroke-width="0.9" fill="#ddd" />
<path d="M681.6 432.1 A36.5 36.5 0 0 1 718.1 468.6" stroke="#111" stroke-width="1.3" fill="none" />
<path d="M725.6 573.2 L762.1 573.2 L762.1 571 L725.6 571 Z" stroke="#222" stroke-width="0.9" fill="#ddd" />
<path d="M762.1 573.2 A36.5 36.5 0 0 0 725.6 536.7" stroke="#111" stroke-width="1.3" fill="none" />
<line x1="265" y1="482" x2="265" y2="540" stroke="#333" stroke-width="0.9" />
<line x1="970.3" y1="401" x2="970.3" y2="463.5" stroke="#333" stroke-width="0.9" />
<line x1="304" y1="373.3" x2="348" y2="373.3" stroke="#333" stroke-width="1" stroke-dasharray="6 3"/>
<line x1="620" y1="309.2" x2="666" y2="309.2" stroke="#333" stroke-width="1" stroke-dasharray="6 3"/>
<line x1="866" y1="373.3" x2="916" y2="373.3" stroke="#333" stroke-width="1" stroke-dasharray="6 3"/>
<path d="M855.8 186.3 L838 204.4 L856.2 224.4" stroke="#111" stroke-width="1.3" fill="none" />
<path d="M857 187.9 L840.04 204.4 L857.4 222.8" stroke="#111" stroke-width="1.3" fill="none" />
<path d="M897.6 259.4 L915.6 278.7 L897.6 298" stroke="#111" stroke-width="1.3" fill="none" />
<path d="M896.4 261 L913.56 278.7 L896.4 296.4" stroke="#111" stroke-width="1.3" fill="none" />
<path d="M916.9 539.4 L935.6 520.6 L953 539.4" stroke="#111" stroke-width="1.3" fill="none" />
<path d="M918.6 540.6 L935.6 523 L951.4 540.6" stroke="#111" stroke-width="1.3" fill="none" />
<rect x="275.4" y="200.2" width="106.5" height="85.8" rx="0" stroke="#222" stroke-width="1.25" fill="none" />
<rect x="284.4" y="207.5" width="20.5" height="32.5" rx="0" stroke="#222" stroke-width="1.25" fill="none" />
<rect x="284.4" y="246.5" width="15" height="33" rx="0" stroke="#222" stroke-width="1.25" fill="none" />
<path d="M299.4 286 L299.4 226.9 L325.2 200.2 L381.9 200.2 L381.9 286 Z" stroke="#222" stroke-width="1.25" fill="#fff" />
<path d="M299.4 226.9 L325.2 226.9 L325.2 200.2 Z" stroke="#222" stroke-width="1.25" fill="#fff" />
<line x1="378.6" y1="200.2" x2="378.6" y2="286" stroke="#222" stroke-width="1.0" />
<rect x="678.8" y="200.2" width="105.9" height="85.8" rx="0" stroke="#222" stroke-width="1.25" fill="none" />
<rect x="687.8" y="207.5" width="20.5" height="32.5" rx="0" stroke="#222" stroke-width="1.25" fill="none" />
<rect x="687.8" y="246.5" width="15" height="33" rx="0" stroke="#222" stroke-width="1.25" fill="none" />
<path d="M702.8 286 L702.8 226.9 L728.6 200.2 L784.7 200.2 L784.7 286 Z" stroke="#222" stroke-width="1.25" fill="#fff" />
<path d="M702.8 226.9 L728.6 226.9 L728.6 200.2 Z" stroke="#222" stroke-width="1.25" fill="#fff" />
<line x1="781.4" y1="200.2" x2="781.4" y2="286" stroke="#222" stroke-width="1.0" />
<rect x="958.4" y="200.2" width="105" height="85.8" rx="0" stroke="#222" stroke-width="1.25" fill="none" />
<rect x="1041" y="207.2" width="14.6" height="32.4" rx="0" stroke="#222" stroke-width="1.25" fill="none" />
<rect x="1035.3" y="246" width="20.3" height="32.4" rx="0" stroke="#222" stroke-width="1.25" fill="none" />
<path d="M1040 200.2 L1040 258.7 L1014.7 286 L958.4 286 L958.4 200.2 Z" stroke="#222" stroke-width="1.25" fill="#fff" />
<path d="M1040 258.7 L1014.7 258.7 L1014.7 286 Z" stroke="#222" stroke-width="1.25" fill="#fff" />
<line x1="961.4" y1="200.2" x2="961.4" y2="286" stroke="#222" stroke-width="1.0" />
<circle cx="369.7" cy="270" r="3.6" stroke="#222" stroke-width="1.2" fill="#fff"/>
<rect x="376.2" y="267.3" width="24" height="5.4" fill="none" stroke="#1a1a1a" stroke-width="1.3" transform="rotate(45 369.7 270)"/>
<rect x="376.2" y="267.3" width="24" height="5.4" fill="none" stroke="#1a1a1a" stroke-width="1.3" transform="rotate(135 369.7 270)"/>
<rect x="376.2" y="267.3" width="24" height="5.4" fill="none" stroke="#1a1a1a" stroke-width="1.3" transform="rotate(225 369.7 270)"/>
<rect x="376.2" y="267.3" width="24" height="5.4" fill="none" stroke="#1a1a1a" stroke-width="1.3" transform="rotate(315 369.7 270)"/>
<circle cx="765" cy="270" r="3.6" stroke="#222" stroke-width="1.2" fill="#fff"/>
<rect x="771.5" y="267.3" width="24" height="5.4" fill="none" stroke="#1a1a1a" stroke-width="1.3" transform="rotate(45 765 270)"/>
<rect x="771.5" y="267.3" width="24" height="5.4" fill="none" stroke="#1a1a1a" stroke-width="1.3" transform="rotate(135 765 270)"/>
<rect x="771.5" y="267.3" width="24" height="5.4" fill="none" stroke="#1a1a1a" stroke-width="1.3" transform="rotate(225 765 270)"/>
<rect x="771.5" y="267.3" width="24" height="5.4" fill="none" stroke="#1a1a1a" stroke-width="1.3" transform="rotate(315 765 270)"/>
<circle cx="982.2" cy="270" r="3.6" stroke="#222" stroke-width="1.2" fill="#fff"/>
<rect x="988.7" y="267.3" width="24" height="5.4" fill="none" stroke="#1a1a1a" stroke-width="1.3" transform="rotate(45 982.2 270)"/>
<rect x="988.7" y="267.3" width="24" height="5.4" fill="none" stroke="#1a1a1a" stroke-width="1.3" transform="rotate(135 982.2 270)"/>
<rect x="988.7" y="267.3" width="24" height="5.4" fill="none" stroke="#1a1a1a" stroke-width="1.3" transform="rotate(225 982.2 270)"/>
<rect x="988.7" y="267.3" width="24" height="5.4" fill="none" stroke="#1a1a1a" stroke-width="1.3" transform="rotate(315 982.2 270)"/>
<circle cx="477.1" cy="479.4" r="3.6" stroke="#222" stroke-width="1.2" fill="#fff"/>
<rect x="483.6" y="476.7" width="24" height="5.4" fill="none" stroke="#1a1a1a" stroke-width="1.3" transform="rotate(45 477.1 479.4)"/>
<rect x="483.6" y="476.7" width="24" height="5.4" fill="none" stroke="#1a1a1a" stroke-width="1.3" transform="rotate(135 477.1 479.4)"/>
<rect x="483.6" y="476.7" width="24" height="5.4" fill="none" stroke="#1a1a1a" stroke-width="1.3" transform="rotate(225 477.1 479.4)"/>
<rect x="483.6" y="476.7" width="24" height="5.4" fill="none" stroke="#1a1a1a" stroke-width="1.3" transform="rotate(315 477.1 479.4)"/>
<circle cx="842.2" cy="479.3" r="3.6" stroke="#222" stroke-width="1.2" fill="#fff"/>
<rect x="848.7" y="476.6" width="24" height="5.4" fill="none" stroke="#1a1a1a" stroke-width="1.3" transform="rotate(45 842.2 479.3)"/>
<rect x="848.7" y="476.6" width="24" height="5.4" fill="none" stroke="#1a1a1a" stroke-width="1.3" transform="rotate(135 842.2 479.3)"/>
<rect x="848.7" y="476.6" width="24" height="5.4" fill="none" stroke="#1a1a1a" stroke-width="1.3" transform="rotate(225 842.2 479.3)"/>
<rect x="848.7" y="476.6" width="24" height="5.4" fill="none" stroke="#1a1a1a" stroke-width="1.3" transform="rotate(315 842.2 479.3)"/>
<rect x="551.9" y="167.6" width="28" height="42.5" rx="0" stroke="#222" stroke-width="1.25" fill="none" />
<ellipse cx="567.4" cy="188.4" rx="8.4" ry="13" stroke="#222" stroke-width="1.25" fill="none"/>
<circle cx="572.5" cy="188.4" r="3.4" stroke="#222" stroke-width="1.0" fill="none"/>
<line x1="568" y1="188.4" x2="578" y2="188.4" stroke="#222" stroke-width="0.8" />
<line x1="572.5" y1="184" x2="572.5" y2="193" stroke="#222" stroke-width="0.8" />
<circle cx="566.5" cy="171.6" r="2.4" stroke="#3a3a3a" stroke-width="0.95" fill="#eee"/>
<line x1="566.5" y1="168" x2="566.5" y2="175.2" stroke="#333" stroke-width="0.8" />
<text x="561.66" y="180" font-size="4.5" font-weight="bold" fill="#222" textLength="9.67" lengthAdjust="spacingAndGlyphs">GFCI</text>
<path d="M580 218.4 H570.5 Q567.8 218.4 567.8 221.5 V245 Q567.8 248 570.5 248 H580" stroke="#222" stroke-width="1.25" fill="none" />
<ellipse cx="555.2" cy="232.6" rx="11.3" ry="9.5" stroke="#222" stroke-width="1.25" fill="none"/>
<circle cx="516.6" cy="215" r="3.6" stroke="#111" stroke-width="1" fill="#444"/>
<line x1="508.6" y1="215" x2="524.6" y2="215" stroke="#222" stroke-width="0.9" />
<line x1="516.6" y1="207" x2="516.6" y2="223" stroke="#222" stroke-width="0.9" />
<line x1="472.5" y1="259.7" x2="552" y2="259.7" stroke="#222" stroke-width="1.0" />
<rect x="476.9" y="265.2" width="70.3" height="31.7" rx="11" stroke="#222" stroke-width="1.25" fill="none" />
<line x1="590.5" y1="209" x2="670.5" y2="209" stroke="#222" stroke-width="1.0" />
<path d="M599.6 171.9 H650.4 Q665.4 171.9 665.4 187.8 Q665.4 203.7 650.4 203.7 H599.6 Q594.6 203.7 594.6 198.7 V176.9 Q594.6 171.9 599.6 171.9 Z" stroke="#222" stroke-width="1.25" fill="none" />
<path d="M590 218.4 H599.3 Q601.8 218.4 601.8 221.5 V245 Q601.8 248 599.3 248 H590" stroke="#222" stroke-width="1.25" fill="none" />
<ellipse cx="614.8" cy="233" rx="11.2" ry="9.6" stroke="#222" stroke-width="1.25" fill="none"/>
<circle cx="633.6" cy="241.3" r="3.6" stroke="#111" stroke-width="1" fill="#444"/>
<line x1="625.6" y1="241.3" x2="641.6" y2="241.3" stroke="#222" stroke-width="0.9" />
<line x1="633.6" y1="233.3" x2="633.6" y2="249.3" stroke="#222" stroke-width="0.9" />
<rect x="590" y="258.6" width="28.5" height="43.5" rx="0" stroke="#444" stroke-width="1.0" fill="none" />
<line x1="617.2" y1="258.6" x2="617.2" y2="302" stroke="#555" stroke-width="0.8" />
<ellipse cx="603.3" cy="280.2" rx="8.2" ry="13" stroke="#222" stroke-width="1.25" fill="none"/>
<circle cx="597.8" cy="280.5" r="3.4" stroke="#222" stroke-width="1.0" fill="none"/>
<line x1="591" y1="280.5" x2="601.5" y2="280.5" stroke="#222" stroke-width="0.8" />
<line x1="597.8" y1="276.5" x2="597.8" y2="284.5" stroke="#222" stroke-width="0.8" />
<circle cx="603.4" cy="297" r="2.4" stroke="#3a3a3a" stroke-width="0.95" fill="#eee"/>
<line x1="603.4" y1="293.4" x2="603.4" y2="300.6" stroke="#333" stroke-width="0.8" />
<text x="598.56" y="292.3" font-size="4.5" font-weight="bold" fill="#222" textLength="9.67" lengthAdjust="spacingAndGlyphs">GFCI</text>
<line x1="415.25" y1="414.4" x2="467.2" y2="414.4" stroke="#222" stroke-width="1.25" />
<line x1="415.25" y1="414.4" x2="415.25" y2="436.5" stroke="#222" stroke-width="1.25" />
<rect x="467.2" y="380" width="44.7" height="34.4" rx="0" stroke="#222" stroke-width="1.25" fill="none" />
<line x1="511.9" y1="414.4" x2="556.5" y2="414.4" stroke="#222" stroke-width="1.25" />
<line x1="556.5" y1="380" x2="556.5" y2="414.4" stroke="#222" stroke-width="1.25" />
<circle cx="481" cy="388.8" r="3.6" stroke="#222" stroke-width="1.25" fill="none"/>
<circle cx="499.7" cy="391.6" r="7" stroke="#222" stroke-width="1.25" fill="none"/>
<circle cx="481" cy="403.8" r="6.5" stroke="#222" stroke-width="1.25" fill="none"/>
<circle cx="500.3" cy="407" r="3.9" stroke="#222" stroke-width="1.25" fill="none"/>
<circle cx="489" cy="386" r="2" stroke="#222" stroke-width="0.9" fill="#aaa"/>
<path d="M399 436.5 V397.5 H465 V402.8 H514.7 V397.5 H556.5" stroke="#222" stroke-width="1.3" fill="none" stroke-dasharray="5.5 2.8"/>
<circle cx="428.4" cy="385" r="2.4" stroke="#3a3a3a" stroke-width="0.95" fill="#eee"/>
<line x1="428.4" y1="381.4" x2="428.4" y2="388.6" stroke="#333" stroke-width="0.8" />
<text x="423.56" y="393.5" font-size="4.5" font-weight="bold" fill="#222" textLength="9.67" lengthAdjust="spacingAndGlyphs">GFCI</text>
<circle cx="531.6" cy="385" r="2.4" stroke="#3a3a3a" stroke-width="0.95" fill="#eee"/>
<line x1="531.6" y1="381.4" x2="531.6" y2="388.6" stroke="#333" stroke-width="0.8" />
<text x="526.76" y="393.5" font-size="4.5" font-weight="bold" fill="#222" textLength="9.67" lengthAdjust="spacingAndGlyphs">GFCI</text>
<rect x="385.3" y="436.5" width="36.9" height="45" rx="0" stroke="#222" stroke-width="1.25" fill="none" />
<line x1="419.4" y1="436.5" x2="419.4" y2="481.5" stroke="#222" stroke-width="0.9" />
<circle cx="388.5" cy="460.3" r="2.4" stroke="#3a3a3a" stroke-width="0.95" fill="#eee"/>
<line x1="384.9" y1="460.3" x2="392.1" y2="460.3" stroke="#333" stroke-width="0.8" />
<line x1="384" y1="544.6" x2="532.8" y2="544.6" stroke="#222" stroke-width="1.25" />
<line x1="532.8" y1="544.6" x2="532.8" y2="578.5" stroke="#222" stroke-width="1.25" />
<line x1="409.4" y1="544.6" x2="409.4" y2="578.5" stroke="#222" stroke-width="1.0" />
<line x1="445.6" y1="544.6" x2="445.6" y2="578.5" stroke="#222" stroke-width="1.0" />
<line x1="498" y1="544.6" x2="498" y2="578.5" stroke="#222" stroke-width="0.9" />
<text x="419.14" y="557.6" font-size="11.2" font-weight="normal" fill="#111" textLength="14.93" lengthAdjust="spacingAndGlyphs">DW</text>
<rect x="448.7" y="545.6" width="45.2" height="32.2" rx="0" stroke="#333" stroke-width="1.3" fill="none" />
<rect x="451.2" y="548.4" width="19.3" height="22" rx="3.5" stroke="#222" stroke-width="1.0" fill="none" />
<rect x="472.1" y="548.4" width="19.3" height="22" rx="3.5" stroke="#222" stroke-width="1.0" fill="none" />
<circle cx="461.3" cy="559.4" r="1.5" stroke="#222" stroke-width="0.8" fill="none"/>
<circle cx="481.6" cy="559.4" r="1.5" stroke="#222" stroke-width="0.8" fill="none"/>
<circle cx="466.6" cy="573.6" r="0.9" stroke="none" stroke-width="0" fill="#222"/>
<circle cx="470.8" cy="573.6" r="0.9" stroke="none" stroke-width="0" fill="#222"/>
<circle cx="475" cy="573.6" r="0.9" stroke="none" stroke-width="0" fill="#222"/>
<line x1="274" y1="562.2" x2="378" y2="562.2" stroke="#222" stroke-width="1.3" stroke-dasharray="5.5 2.8"/>
<line x1="384" y1="562.2" x2="445.6" y2="562.2" stroke="#222" stroke-width="1.3" stroke-dasharray="5.5 2.8"/>
<line x1="503" y1="561.6" x2="532.8" y2="561.6" stroke="#222" stroke-width="1.3" stroke-dasharray="5.5 2.8"/>
<text x="492.72" y="559.6" font-size="4.4" font-weight="bold" fill="#222" textLength="21.37" lengthAdjust="spacingAndGlyphs" transform="rotate(-90 503.4 559.6)">DISPOSAL</text>
<text x="412.16" y="568.8" font-size="4.5" font-weight="bold" fill="#222" textLength="9.67" lengthAdjust="spacingAndGlyphs">GFCI</text>
<circle cx="417" cy="573.6" r="2.4" stroke="#3a3a3a" stroke-width="0.95" fill="#eee"/>
<line x1="417" y1="570" x2="417" y2="577.2" stroke="#333" stroke-width="0.8" />
<circle cx="429" cy="573.6" r="2.4" stroke="#3a3a3a" stroke-width="0.95" fill="#eee"/>
<line x1="429" y1="570" x2="429" y2="577.2" stroke="#333" stroke-width="0.8" />
<text x="512.36" y="568.8" font-size="4.5" font-weight="bold" fill="#222" textLength="9.67" lengthAdjust="spacingAndGlyphs">GFCI</text>
<circle cx="517.2" cy="573.8" r="2.4" stroke="#3a3a3a" stroke-width="0.95" fill="#eee"/>
<line x1="517.2" y1="570.2" x2="517.2" y2="577.4" stroke="#333" stroke-width="0.8" />
<circle cx="308.7" cy="573.4" r="2.4" stroke="#3a3a3a" stroke-width="0.95" fill="#eee"/>
<line x1="308.7" y1="569.8" x2="308.7" y2="577" stroke="#333" stroke-width="0.8" />
<circle cx="618.75" cy="573.8" r="2.4" stroke="#3a3a3a" stroke-width="0.95" fill="#eee"/>
<line x1="618.75" y1="570.2" x2="618.75" y2="577.4" stroke="#333" stroke-width="0.8" />
<path d="M545.8 571.1 L552.2 571.1 L549 577.5 Z" stroke="#333" stroke-width="0.9" fill="#fff" />
<path d="M290 380 V414 H361.3 V380" stroke="#222" stroke-width="1.3" fill="none" stroke-dasharray="5.5 2.8"/>
<circle cx="326.2" cy="399.4" r="4.2" stroke="#222" stroke-width="1.1" fill="none"/>
<line x1="319.7" y1="392.9" x2="332.7" y2="405.9" stroke="#222" stroke-width="1.0" />
<line x1="319.7" y1="405.9" x2="332.7" y2="392.9" stroke="#222" stroke-width="1.0" />
<path d="M296 383.5 C296 400 298 412 308 409 C315 407 320 403 322 401" stroke="#222" stroke-width="0.9" fill="none" />
<rect x="282.9" y="444.4" width="40.9" height="37.4" rx="0" stroke="#222" stroke-width="1.25" fill="none" />
<rect x="327" y="444.4" width="41.4" height="37.4" rx="0" stroke="#222" stroke-width="1.25" fill="none" />
<line x1="282.9" y1="446.2" x2="323.8" y2="446.2" stroke="#666" stroke-width="2.2" />
<line x1="327" y1="446.2" x2="368.4" y2="446.2" stroke="#666" stroke-width="2.2" />
<rect x="291" y="450.6" width="25.3" height="25.7" rx="2.5" stroke="#222" stroke-width="1.25" fill="none" />
<rect x="300.8" y="471.7" width="5.4" height="1.6" rx="0" stroke="none" stroke-width="0" fill="#111" />
<circle cx="312" cy="442" r="2.4" stroke="#3a3a3a" stroke-width="0.95" fill="#eee"/>
<line x1="312" y1="438.4" x2="312" y2="445.6" stroke="#333" stroke-width="0.8" />
<circle cx="338.75" cy="442" r="2.4" stroke="#3a3a3a" stroke-width="0.95" fill="#eee"/>
<line x1="338.75" y1="438.4" x2="338.75" y2="445.6" stroke="#333" stroke-width="0.8" />
<line x1="274" y1="463" x2="378" y2="463" stroke="#222" stroke-width="1.3" stroke-dasharray="5.5 2.8"/>
<circle cx="325.4" cy="519.3" r="3.8" stroke="#222" stroke-width="1.1" fill="none"/>
<line x1="319.6" y1="513.5" x2="331.2" y2="525.1" stroke="#222" stroke-width="1.0" />
<line x1="319.6" y1="525.1" x2="331.2" y2="513.5" stroke="#222" stroke-width="1.0" />
<circle cx="302.8" cy="530.9" r="4.5" stroke="#111" stroke-width="1.5" fill="#666"/>
<text x="300.08" y="532.6" font-size="4.6" font-weight="bold" fill="#eee" textLength="5.43" lengthAdjust="spacingAndGlyphs">SD</text>
<rect x="596" y="482.5" width="48.8" height="52" rx="0" stroke="#222" stroke-width="1.0" fill="none" />
<g transform="translate(620.3 482.6) rotate(0)">
<path d="M-12.5 -12 Q-13.6 -14.5 -10 -14.8 H10 Q13.6 -14.5 12.5 -12 L13 4 Q12 13.5 0 14.5 Q-12 13.5 -13 4 Z" stroke="#222" stroke-width="1.0" fill="none" />
<path d="M-13 -17.5 Q0 -24 13 -17.5" stroke="#222" stroke-width="1.0" fill="none" />
<path d="M-12.3 -16 Q0 -22 12.3 -16" stroke="#222" stroke-width="1.0" fill="none" />
<line x1="-13" y1="-17.5" x2="-12.3" y2="-16" stroke="#222" stroke-width="1.0" />
<line x1="13" y1="-17.5" x2="12.3" y2="-16" stroke="#222" stroke-width="1.0" />
</g>
<g transform="translate(593.5 508.9) rotate(-90)">
<path d="M-12.5 -12 Q-13.6 -14.5 -10 -14.8 H10 Q13.6 -14.5 12.5 -12 L13 4 Q12 13.5 0 14.5 Q-12 13.5 -13 4 Z" stroke="#222" stroke-width="1.0" fill="none" />
<path d="M-13 -17.5 Q0 -24 13 -17.5" stroke="#222" stroke-width="1.0" fill="none" />
<path d="M-12.3 -16 Q0 -22 12.3 -16" stroke="#222" stroke-width="1.0" fill="none" />
<line x1="-13" y1="-17.5" x2="-12.3" y2="-16" stroke="#222" stroke-width="1.0" />
<line x1="13" y1="-17.5" x2="12.3" y2="-16" stroke="#222" stroke-width="1.0" />
</g>
<g transform="translate(620.3 535.2) rotate(180)">
<path d="M-12.5 -12 Q-13.6 -14.5 -10 -14.8 H10 Q13.6 -14.5 12.5 -12 L13 4 Q12 13.5 0 14.5 Q-12 13.5 -13 4 Z" stroke="#222" stroke-width="1.0" fill="none" />
<path d="M-13 -17.5 Q0 -24 13 -17.5" stroke="#222" stroke-width="1.0" fill="none" />
<path d="M-12.3 -16 Q0 -22 12.3 -16" stroke="#222" stroke-width="1.0" fill="none" />
<line x1="-13" y1="-17.5" x2="-12.3" y2="-16" stroke="#222" stroke-width="1.0" />
<line x1="13" y1="-17.5" x2="12.3" y2="-16" stroke="#222" stroke-width="1.0" />
</g>
<circle cx="620.6" cy="508.5" r="4.2" stroke="#222" stroke-width="1.1" fill="none"/>
<line x1="614.1" y1="502" x2="627.1" y2="515" stroke="#222" stroke-width="1.0" />
<line x1="614.1" y1="515" x2="627.1" y2="502" stroke="#222" stroke-width="1.0" />
<rect x="685" y="477.7" width="25" height="45" rx="0" stroke="#222" stroke-width="1.25" fill="none" />
<line x1="685" y1="522.6" x2="710" y2="522.6" stroke="#222" stroke-width="1.8" />
<text x="687.21" y="500" font-size="8.3" font-weight="normal" fill="#111" textLength="26.18" lengthAdjust="spacingAndGlyphs" transform="rotate(-90 700.3 500)">Furnace</text>
<circle cx="696.5" cy="555.3" r="16" stroke="#222" stroke-width="1.25" fill="none"/>
<text x="693.45" y="555.3" font-size="11.5" font-weight="normal" fill="#111" textLength="16.09" lengthAdjust="spacingAndGlyphs" transform="rotate(-90 701.5 555.3)">WH</text>
<rect x="767.75" y="531.5" width="107.3" height="44.5" rx="0" stroke="#444" stroke-width="1.0" fill="none" />
<rect x="773.2" y="531.5" width="96.5" height="38.8" rx="0" stroke="#222" stroke-width="1.25" fill="none" />
<line x1="805.25" y1="531.5" x2="805.25" y2="570.3" stroke="#222" stroke-width="1.25" />
<line x1="837.5" y1="531.5" x2="837.5" y2="570.3" stroke="#222" stroke-width="1.25" />
<line x1="773.2" y1="562.2" x2="869.7" y2="562.2" stroke="#222" stroke-width="1.0" />
<line x1="773.2" y1="566" x2="869.7" y2="566" stroke="#222" stroke-width="1.0" />
<line x1="767.75" y1="533.4" x2="773.2" y2="533.4" stroke="#555" stroke-width="0.8" />
<line x1="869.7" y1="533.4" x2="875" y2="533.4" stroke="#555" stroke-width="0.8" />
<circle cx="763.4" cy="573" r="2.4" stroke="#3a3a3a" stroke-width="0.95" fill="#eee"/>
<line x1="763.4" y1="569.4" x2="763.4" y2="576.6" stroke="#333" stroke-width="0.8" />
<circle cx="880.2" cy="573" r="2.4" stroke="#3a3a3a" stroke-width="0.95" fill="#eee"/>
<line x1="880.2" y1="569.4" x2="880.2" y2="576.6" stroke="#333" stroke-width="0.8" />
<circle cx="879.75" cy="573.75" r="2.4" stroke="#3a3a3a" stroke-width="0.95" fill="#eee"/>
<line x1="879.75" y1="570.15" x2="879.75" y2="577.35" stroke="#333" stroke-width="0.8" />
<path d="M779 571.1 L785.4 571.1 L782.2 577.5 Z" stroke="#333" stroke-width="0.9" fill="#fff" />
<circle cx="730.2" cy="493.5" r="2.4" stroke="#3a3a3a" stroke-width="0.95" fill="#eee"/>
<line x1="730.2" y1="489.9" x2="730.2" y2="497.1" stroke="#333" stroke-width="0.8" />
<line x1="898" y1="562" x2="961" y2="562" stroke="#222" stroke-width="1.3" stroke-dasharray="5.5 2.8"/>
<line x1="876.3" y1="167.6" x2="876.3" y2="231" stroke="#222" stroke-width="1.3" stroke-dasharray="5.5 2.8"/>
<line x1="888" y1="164" x2="888" y2="232.5" stroke="#222" stroke-width="0.9" />
<line x1="876.5" y1="239.5" x2="876.5" y2="306" stroke="#222" stroke-width="1.3" stroke-dasharray="5.5 2.8"/>
<line x1="873.75" y1="238" x2="873.75" y2="306" stroke="#222" stroke-width="0.9" />
<line x1="918" y1="543.75" x2="918" y2="580.6" stroke="#222" stroke-width="0.9" />
<line x1="264.5" y1="57" x2="1074.5" y2="57" stroke="#1c1c1c" stroke-width="1.4" />
<line x1="139.5" y1="82.6" x2="1074.5" y2="82.6" stroke="#1c1c1c" stroke-width="1.4" />
<line x1="264.5" y1="107.6" x2="1074.5" y2="107.6" stroke="#1c1c1c" stroke-width="1.4" />
<line x1="267.3" y1="53" x2="267.3" y2="154" stroke="#1c1c1c" stroke-width="1.4" />
<line x1="1072.5" y1="53" x2="1072.5" y2="154" stroke="#1c1c1c" stroke-width="1.4" />
<line x1="142.3" y1="78" x2="142.3" y2="207" stroke="#1c1c1c" stroke-width="1.4" />
<line x1="468" y1="78" x2="468" y2="170" stroke="#1c1c1c" stroke-width="1.4" />
<line x1="585.5" y1="78" x2="585.5" y2="160" stroke="#1c1c1c" stroke-width="1.4" />
<line x1="673.75" y1="78" x2="673.75" y2="160" stroke="#1c1c1c" stroke-width="1.4" />
<line x1="857.6" y1="78" x2="857.6" y2="167" stroke="#1c1c1c" stroke-width="1.4" />
<line x1="895.25" y1="78" x2="895.25" y2="160" stroke="#1c1c1c" stroke-width="1.4" />
<line x1="372" y1="103" x2="372" y2="155" stroke="#1c1c1c" stroke-width="1.4" />
<line x1="525" y1="103" x2="525" y2="126" stroke="#1c1c1c" stroke-width="1.4" />
<line x1="629.5" y1="103" x2="629.5" y2="126" stroke="#1c1c1c" stroke-width="1.4" />
<line x1="769.25" y1="103" x2="769.25" y2="155" stroke="#1c1c1c" stroke-width="1.4" />
<line x1="968" y1="103" x2="968" y2="155" stroke="#1c1c1c" stroke-width="1.4" />
<line x1="264.8" y1="59.5" x2="269.8" y2="54.5" stroke="#111" stroke-width="2.1" />
<line x1="1070" y1="59.5" x2="1075" y2="54.5" stroke="#111" stroke-width="2.1" />
<line x1="139.8" y1="85.1" x2="144.8" y2="80.1" stroke="#111" stroke-width="2.1" />
<line x1="264.8" y1="85.1" x2="269.8" y2="80.1" stroke="#111" stroke-width="2.1" />
<line x1="465.5" y1="85.1" x2="470.5" y2="80.1" stroke="#111" stroke-width="2.1" />
<line x1="583" y1="85.1" x2="588" y2="80.1" stroke="#111" stroke-width="2.1" />
<line x1="671.25" y1="85.1" x2="676.25" y2="80.1" stroke="#111" stroke-width="2.1" />
<line x1="855.1" y1="85.1" x2="860.1" y2="80.1" stroke="#111" stroke-width="2.1" />
<line x1="892.75" y1="85.1" x2="897.75" y2="80.1" stroke="#111" stroke-width="2.1" />
<line x1="1070" y1="85.1" x2="1075" y2="80.1" stroke="#111" stroke-width="2.1" />
<line x1="264.8" y1="110.1" x2="269.8" y2="105.1" stroke="#111" stroke-width="2.1" />
<line x1="369.5" y1="110.1" x2="374.5" y2="105.1" stroke="#111" stroke-width="2.1" />
<line x1="522.5" y1="110.1" x2="527.5" y2="105.1" stroke="#111" stroke-width="2.1" />
<line x1="627" y1="110.1" x2="632" y2="105.1" stroke="#111" stroke-width="2.1" />
<line x1="766.75" y1="110.1" x2="771.75" y2="105.1" stroke="#111" stroke-width="2.1" />
<line x1="965.5" y1="110.1" x2="970.5" y2="105.1" stroke="#111" stroke-width="2.1" />
<line x1="1070" y1="110.1" x2="1075" y2="105.1" stroke="#111" stroke-width="2.1" />
<text x="657.6" y="55" font-size="10.0" font-weight="bold" stroke="#0a0a0a" stroke-width="0.55" fill="#0a0a0a" textLength="22.79" lengthAdjust="spacingAndGlyphs">50'-0&quot;</text>
<text x="195.94" y="80.9" font-size="10.0" font-weight="bold" stroke="#0a0a0a" stroke-width="0.55" fill="#0a0a0a" textLength="18.12" lengthAdjust="spacingAndGlyphs">7'-9&quot;</text>
<text x="356.6" y="80.9" font-size="10.0" font-weight="bold" stroke="#0a0a0a" stroke-width="0.55" fill="#0a0a0a" textLength="22.79" lengthAdjust="spacingAndGlyphs">12'-6&quot;</text>
<text x="517.94" y="80.9" font-size="10.0" font-weight="bold" stroke="#0a0a0a" stroke-width="0.55" fill="#0a0a0a" textLength="18.12" lengthAdjust="spacingAndGlyphs">7'-3&quot;</text>
<text x="614.33" y="80.9" font-size="10.0" font-weight="bold" stroke="#0a0a0a" stroke-width="0.55" fill="#0a0a0a" textLength="30.34" lengthAdjust="spacingAndGlyphs">VERIFY</text>
<text x="754.84" y="80.9" font-size="10.0" font-weight="bold" stroke="#0a0a0a" stroke-width="0.55" fill="#0a0a0a" textLength="22.33" lengthAdjust="spacingAndGlyphs">11'-5&quot;</text>
<text x="867.94" y="80.9" font-size="10.0" font-weight="bold" stroke="#0a0a0a" stroke-width="0.55" fill="#0a0a0a" textLength="18.12" lengthAdjust="spacingAndGlyphs">2'-4&quot;</text>
<text x="972.84" y="80.9" font-size="10.0" font-weight="bold" stroke="#0a0a0a" stroke-width="0.55" fill="#0a0a0a" textLength="22.33" lengthAdjust="spacingAndGlyphs">11'-0&quot;</text>
<text x="310.94" y="105.9" font-size="10.0" font-weight="bold" stroke="#0a0a0a" stroke-width="0.55" fill="#0a0a0a" textLength="18.12" lengthAdjust="spacingAndGlyphs">6'-6&quot;</text>
<text x="439.69" y="105.9" font-size="10.0" font-weight="bold" stroke="#0a0a0a" stroke-width="0.55" fill="#0a0a0a" textLength="18.12" lengthAdjust="spacingAndGlyphs">9'-6&quot;</text>
<text x="568.44" y="105.9" font-size="10.0" font-weight="bold" stroke="#0a0a0a" stroke-width="0.55" fill="#0a0a0a" textLength="18.12" lengthAdjust="spacingAndGlyphs">6'-6&quot;</text>
<text x="690.44" y="105.9" font-size="10.0" font-weight="bold" stroke="#0a0a0a" stroke-width="0.55" fill="#0a0a0a" textLength="18.12" lengthAdjust="spacingAndGlyphs">8'-8&quot;</text>
<text x="857.35" y="105.9" font-size="10.0" font-weight="bold" stroke="#0a0a0a" stroke-width="0.55" fill="#0a0a0a" textLength="22.79" lengthAdjust="spacingAndGlyphs">12'-4&quot;</text>
<text x="1010.94" y="105.9" font-size="10.0" font-weight="bold" stroke="#0a0a0a" stroke-width="0.55" fill="#0a0a0a" textLength="18.12" lengthAdjust="spacingAndGlyphs">6'-6&quot;</text>
<line x1="66" y1="155.5" x2="66" y2="590" stroke="#1c1c1c" stroke-width="1.4" />
<line x1="90" y1="155.5" x2="90" y2="590" stroke="#1c1c1c" stroke-width="1.4" />
<line x1="114" y1="155.5" x2="114" y2="590" stroke="#1c1c1c" stroke-width="1.4" />
<line x1="62" y1="159.5" x2="263" y2="159.5" stroke="#1c1c1c" stroke-width="1.4" />
<line x1="86" y1="377" x2="143" y2="377" stroke="#1c1c1c" stroke-width="1.4" />
<line x1="86" y1="434.3" x2="266" y2="434.3" stroke="#1c1c1c" stroke-width="1.4" />
<line x1="110" y1="303" x2="238" y2="303" stroke="#1c1c1c" stroke-width="1.4" />
<line x1="110" y1="509.5" x2="260" y2="509.5" stroke="#1c1c1c" stroke-width="1.4" />
<line x1="63.5" y1="162" x2="68.5" y2="157" stroke="#111" stroke-width="2.1" />
<line x1="63.5" y1="588.9" x2="68.5" y2="583.9" stroke="#111" stroke-width="2.1" />
<line x1="87.5" y1="162" x2="92.5" y2="157" stroke="#111" stroke-width="2.1" />
<line x1="87.5" y1="379.5" x2="92.5" y2="374.5" stroke="#111" stroke-width="2.1" />
<line x1="87.5" y1="436.8" x2="92.5" y2="431.8" stroke="#111" stroke-width="2.1" />
<line x1="87.5" y1="588.9" x2="92.5" y2="583.9" stroke="#111" stroke-width="2.1" />
<line x1="111.5" y1="162" x2="116.5" y2="157" stroke="#111" stroke-width="2.1" />
<line x1="111.5" y1="305.5" x2="116.5" y2="300.5" stroke="#111" stroke-width="2.1" />
<line x1="111.5" y1="512" x2="116.5" y2="507" stroke="#111" stroke-width="2.1" />
<line x1="111.5" y1="588.9" x2="116.5" y2="583.9" stroke="#111" stroke-width="2.1" />
<text x="53.1" y="371" font-size="10.0" font-weight="bold" stroke="#0a0a0a" stroke-width="0.55" fill="#0a0a0a" textLength="22.79" lengthAdjust="spacingAndGlyphs" transform="rotate(-90 64.5 371)">25'-0&quot;</text>
<text x="77.1" y="268" font-size="10.0" font-weight="bold" stroke="#0a0a0a" stroke-width="0.55" fill="#0a0a0a" textLength="22.79" lengthAdjust="spacingAndGlyphs" transform="rotate(-90 88.5 268)">12'-9&quot;</text>
<text x="79.44" y="404.5" font-size="10.0" font-weight="bold" stroke="#0a0a0a" stroke-width="0.55" fill="#0a0a0a" textLength="18.12" lengthAdjust="spacingAndGlyphs" transform="rotate(-90 88.5 404.5)">3'-4&quot;</text>
<text x="77.34" y="510" font-size="10.0" font-weight="bold" stroke="#0a0a0a" stroke-width="0.55" fill="#0a0a0a" textLength="22.33" lengthAdjust="spacingAndGlyphs" transform="rotate(-90 88.5 510)">8'-11&quot;</text>
<text x="103.44" y="231" font-size="10.0" font-weight="bold" stroke="#0a0a0a" stroke-width="0.55" fill="#0a0a0a" textLength="18.12" lengthAdjust="spacingAndGlyphs" transform="rotate(-90 112.5 231)">8'-5&quot;</text>
<text x="101.1" y="406" font-size="10.0" font-weight="bold" stroke="#0a0a0a" stroke-width="0.55" fill="#0a0a0a" textLength="22.79" lengthAdjust="spacingAndGlyphs" transform="rotate(-90 112.5 406)">12'-1&quot;</text>
<text x="103.44" y="545" font-size="10.0" font-weight="bold" stroke="#0a0a0a" stroke-width="0.55" fill="#0a0a0a" textLength="18.12" lengthAdjust="spacingAndGlyphs" transform="rotate(-90 112.5 545)">4'-6&quot;</text>
<line x1="1122" y1="155" x2="1122" y2="307" stroke="#1c1c1c" stroke-width="1.4" />
<line x1="1076.6" y1="159.2" x2="1126" y2="159.2" stroke="#1c1c1c" stroke-width="1.4" />
<line x1="1100" y1="303.2" x2="1126" y2="303.2" stroke="#1c1c1c" stroke-width="1.4" />
<line x1="1119.5" y1="161.7" x2="1124.5" y2="156.7" stroke="#111" stroke-width="2.1" />
<line x1="1119.5" y1="305.7" x2="1124.5" y2="300.7" stroke="#111" stroke-width="2.1" />
<text x="1111.44" y="231" font-size="10.0" font-weight="bold" stroke="#0a0a0a" stroke-width="0.55" fill="#0a0a0a" textLength="18.12" lengthAdjust="spacingAndGlyphs" transform="rotate(-90 1120.5 231)">8'-5&quot;</text>
<line x1="1228.75" y1="368" x2="1228.75" y2="625" stroke="#1c1c1c" stroke-width="1.4" />
<line x1="1207.5" y1="372.3" x2="1233" y2="372.3" stroke="#1c1c1c" stroke-width="1.4" />
<line x1="1207.5" y1="620.75" x2="1233" y2="620.75" stroke="#1c1c1c" stroke-width="1.4" />
<line x1="1226.25" y1="374.8" x2="1231.25" y2="369.8" stroke="#111" stroke-width="2.1" />
<line x1="1226.25" y1="623.25" x2="1231.25" y2="618.25" stroke="#111" stroke-width="2.1" />
<text x="1212.3" y="496" font-size="10.0" font-weight="bold" stroke="#0a0a0a" stroke-width="0.55" fill="#0a0a0a" textLength="29.8" lengthAdjust="spacingAndGlyphs" transform="rotate(-90 1227.2 496)">14'-6½&quot;</text>
<line x1="1016.25" y1="381" x2="1016.25" y2="590" stroke="#1c1c1c" stroke-width="1.4" />
<line x1="1040.5" y1="381" x2="1040.5" y2="590" stroke="#1c1c1c" stroke-width="1.4" />
<line x1="973.75" y1="431" x2="1020" y2="431" stroke="#1c1c1c" stroke-width="1.4" />
<line x1="998.75" y1="504.25" x2="1020" y2="504.25" stroke="#1c1c1c" stroke-width="1.4" />
<line x1="1013.75" y1="384" x2="1018.75" y2="379" stroke="#111" stroke-width="2.1" />
<line x1="1013.75" y1="433.5" x2="1018.75" y2="428.5" stroke="#111" stroke-width="2.1" />
<line x1="1013.75" y1="506.75" x2="1018.75" y2="501.75" stroke="#111" stroke-width="2.1" />
<line x1="1013.75" y1="588.9" x2="1018.75" y2="583.9" stroke="#111" stroke-width="2.1" />
<line x1="1038" y1="384" x2="1043" y2="379" stroke="#111" stroke-width="2.1" />
<line x1="1038" y1="588.9" x2="1043" y2="583.9" stroke="#111" stroke-width="2.1" />
<text x="1000.03" y="405.5" font-size="10.0" font-weight="bold" stroke="#0a0a0a" stroke-width="0.55" fill="#0a0a0a" textLength="29.33" lengthAdjust="spacingAndGlyphs" transform="rotate(-90 1014.7 405.5)">2'-11½&quot;</text>
<text x="1005.64" y="467.5" font-size="10.0" font-weight="bold" stroke="#0a0a0a" stroke-width="0.55" fill="#0a0a0a" textLength="18.12" lengthAdjust="spacingAndGlyphs" transform="rotate(-90 1014.7 467.5)">4'-3&quot;</text>
<text x="1003.3" y="545" font-size="10.0" font-weight="bold" stroke="#0a0a0a" stroke-width="0.55" fill="#0a0a0a" textLength="22.79" lengthAdjust="spacingAndGlyphs" transform="rotate(-90 1014.7 545)">4'-10&quot;</text>
<text x="1024" y="483.75" font-size="10.0" font-weight="bold" stroke="#0a0a0a" stroke-width="0.55" fill="#0a0a0a" textLength="29.8" lengthAdjust="spacingAndGlyphs" transform="rotate(-90 1038.9 483.75)">12'-0½&quot;</text>
<line x1="1052.5" y1="583" x2="1052.5" y2="625" stroke="#1c1c1c" stroke-width="1.4" />
<line x1="1049" y1="621.25" x2="1071" y2="621.25" stroke="#1c1c1c" stroke-width="1.4" />
<line x1="1050" y1="588.9" x2="1055" y2="583.9" stroke="#111" stroke-width="2.1" />
<line x1="1050" y1="623.75" x2="1055" y2="618.75" stroke="#111" stroke-width="2.1" />
<text x="1041.94" y="603.75" font-size="10.0" font-weight="bold" stroke="#0a0a0a" stroke-width="0.55" fill="#0a0a0a" textLength="18.12" lengthAdjust="spacingAndGlyphs" transform="rotate(-90 1051 603.75)">2'-0&quot;</text>
<line x1="264.5" y1="662.6" x2="970.5" y2="662.6" stroke="#1c1c1c" stroke-width="1.4" />
<line x1="264.5" y1="689.3" x2="1205.5" y2="689.3" stroke="#1c1c1c" stroke-width="1.4" />
<line x1="264.5" y1="714.5" x2="970.5" y2="714.5" stroke="#1c1c1c" stroke-width="1.4" />
<line x1="267.4" y1="590" x2="267.4" y2="719" stroke="#1c1c1c" stroke-width="1.4" />
<line x1="380.5" y1="576" x2="380.5" y2="693" stroke="#1c1c1c" stroke-width="1.4" />
<line x1="471" y1="619.5" x2="471" y2="667" stroke="#1c1c1c" stroke-width="1.4" />
<line x1="620" y1="616.5" x2="620" y2="667" stroke="#1c1c1c" stroke-width="1.4" />
<line x1="673.75" y1="612" x2="673.75" y2="693" stroke="#1c1c1c" stroke-width="1.4" />
<line x1="722.6" y1="580" x2="722.6" y2="693" stroke="#1c1c1c" stroke-width="1.4" />
<line x1="820.25" y1="591" x2="820.25" y2="667" stroke="#1c1c1c" stroke-width="1.4" />
<line x1="895" y1="580" x2="895" y2="693" stroke="#1c1c1c" stroke-width="1.4" />
<line x1="968.75" y1="590" x2="968.75" y2="719" stroke="#1c1c1c" stroke-width="1.4" />
<line x1="1072.5" y1="590" x2="1072.5" y2="693" stroke="#1c1c1c" stroke-width="1.4" />
<line x1="1203.75" y1="623.75" x2="1203.75" y2="693" stroke="#1c1c1c" stroke-width="1.4" />
<line x1="264.9" y1="665.1" x2="269.9" y2="660.1" stroke="#111" stroke-width="2.1" />
<line x1="468.5" y1="665.1" x2="473.5" y2="660.1" stroke="#111" stroke-width="2.1" />
<line x1="617.5" y1="665.1" x2="622.5" y2="660.1" stroke="#111" stroke-width="2.1" />
<line x1="817.75" y1="665.1" x2="822.75" y2="660.1" stroke="#111" stroke-width="2.1" />
<line x1="966.25" y1="665.1" x2="971.25" y2="660.1" stroke="#111" stroke-width="2.1" />
<line x1="264.9" y1="691.8" x2="269.9" y2="686.8" stroke="#111" stroke-width="2.1" />
<line x1="378" y1="691.8" x2="383" y2="686.8" stroke="#111" stroke-width="2.1" />
<line x1="671.25" y1="691.8" x2="676.25" y2="686.8" stroke="#111" stroke-width="2.1" />
<line x1="720.1" y1="691.8" x2="725.1" y2="686.8" stroke="#111" stroke-width="2.1" />
<line x1="892.5" y1="691.8" x2="897.5" y2="686.8" stroke="#111" stroke-width="2.1" />
<line x1="966.25" y1="691.8" x2="971.25" y2="686.8" stroke="#111" stroke-width="2.1" />
<line x1="1070" y1="691.8" x2="1075" y2="686.8" stroke="#111" stroke-width="2.1" />
<line x1="1201.25" y1="691.8" x2="1206.25" y2="686.8" stroke="#111" stroke-width="2.1" />
<line x1="264.9" y1="717" x2="269.9" y2="712" stroke="#111" stroke-width="2.1" />
<line x1="966.25" y1="717" x2="971.25" y2="712" stroke="#111" stroke-width="2.1" />
<text x="357.6" y="660.9" font-size="10.0" font-weight="bold" stroke="#0a0a0a" stroke-width="0.55" fill="#0a0a0a" textLength="22.79" lengthAdjust="spacingAndGlyphs">12'-8&quot;</text>
<text x="536.69" y="660.9" font-size="10.0" font-weight="bold" stroke="#0a0a0a" stroke-width="0.55" fill="#0a0a0a" textLength="18.12" lengthAdjust="spacingAndGlyphs">9'-3&quot;</text>
<text x="709.1" y="660.9" font-size="10.0" font-weight="bold" stroke="#0a0a0a" stroke-width="0.55" fill="#0a0a0a" textLength="22.79" lengthAdjust="spacingAndGlyphs">12'-5&quot;</text>
<text x="884.94" y="660.9" font-size="10.0" font-weight="bold" stroke="#0a0a0a" stroke-width="0.55" fill="#0a0a0a" textLength="18.12" lengthAdjust="spacingAndGlyphs">9'-2&quot;</text>
<text x="314.19" y="687.6" font-size="10.0" font-weight="bold" stroke="#0a0a0a" stroke-width="0.55" fill="#0a0a0a" textLength="18.12" lengthAdjust="spacingAndGlyphs">7'-0&quot;</text>
<text x="515.35" y="687.6" font-size="10.0" font-weight="bold" stroke="#0a0a0a" stroke-width="0.55" fill="#0a0a0a" textLength="22.79" lengthAdjust="spacingAndGlyphs">18'-3&quot;</text>
<text x="689.19" y="687.6" font-size="10.0" font-weight="bold" stroke="#0a0a0a" stroke-width="0.55" fill="#0a0a0a" textLength="18.12" lengthAdjust="spacingAndGlyphs">3'-0&quot;</text>
<text x="797.35" y="687.6" font-size="10.0" font-weight="bold" stroke="#0a0a0a" stroke-width="0.55" fill="#0a0a0a" textLength="22.79" lengthAdjust="spacingAndGlyphs">10'-9&quot;</text>
<text x="922.44" y="687.6" font-size="10.0" font-weight="bold" stroke="#0a0a0a" stroke-width="0.55" fill="#0a0a0a" textLength="18.12" lengthAdjust="spacingAndGlyphs">4'-6&quot;</text>
<text x="1010.94" y="687.6" font-size="10.0" font-weight="bold" stroke="#0a0a0a" stroke-width="0.55" fill="#0a0a0a" textLength="18.12" lengthAdjust="spacingAndGlyphs">6'-6&quot;</text>
<text x="1124.94" y="687.6" font-size="10.0" font-weight="bold" stroke="#0a0a0a" stroke-width="0.55" fill="#0a0a0a" textLength="25.13" lengthAdjust="spacingAndGlyphs">8'-1½&quot;</text>
<text x="606.1" y="712.8" font-size="10.0" font-weight="bold" stroke="#0a0a0a" stroke-width="0.55" fill="#0a0a0a" textLength="22.79" lengthAdjust="spacingAndGlyphs">43'-6&quot;</text>
<line x1="656.7" y1="264" x2="656.7" y2="722" stroke="#1c1c1c" stroke-width="1.4" />
<path d="M250.8 142.3 H1088.9 V628.8 H250.8 Z" stroke="#151515" stroke-width="1.45" fill="none" stroke-dasharray="6.5 3"/>
<path d="M347.75 130.5 L359.75 142.5 L347.75 154.5 L335.75 142.5 Z" stroke="#111" stroke-width="1.6" fill="none" />
<text x="344.63" y="146.3" font-size="10.8" font-weight="bold" fill="#666" textLength="6.24" lengthAdjust="spacingAndGlyphs">A</text>
<path d="M396.25 130.5 L408.25 142.5 L396.25 154.5 L384.25 142.5 Z" stroke="#111" stroke-width="1.6" fill="none" />
<text x="393.13" y="146.3" font-size="10.8" font-weight="bold" fill="#666" textLength="6.24" lengthAdjust="spacingAndGlyphs">A</text>
<path d="M525 130.5 L537 142.5 L525 154.5 L513 142.5 Z" stroke="#111" stroke-width="1.6" fill="none" />
<text x="521.88" y="146.3" font-size="10.8" font-weight="bold" fill="#666" textLength="6.24" lengthAdjust="spacingAndGlyphs">C</text>
<path d="M629.5 130.5 L641.5 142.5 L629.5 154.5 L617.5 142.5 Z" stroke="#111" stroke-width="1.6" fill="none" />
<text x="626.38" y="146.3" font-size="10.8" font-weight="bold" fill="#666" textLength="6.24" lengthAdjust="spacingAndGlyphs">B</text>
<path d="M745 130.5 L757 142.5 L745 154.5 L733 142.5 Z" stroke="#111" stroke-width="1.6" fill="none" />
<text x="741.88" y="146.3" font-size="10.8" font-weight="bold" fill="#666" textLength="6.24" lengthAdjust="spacingAndGlyphs">A</text>
<path d="M793.75 130.5 L805.75 142.5 L793.75 154.5 L781.75 142.5 Z" stroke="#111" stroke-width="1.6" fill="none" />
<text x="790.63" y="146.3" font-size="10.8" font-weight="bold" fill="#666" textLength="6.24" lengthAdjust="spacingAndGlyphs">A</text>
<path d="M943.75 130.5 L955.75 142.5 L943.75 154.5 L931.75 142.5 Z" stroke="#111" stroke-width="1.6" fill="none" />
<text x="940.63" y="146.3" font-size="10.8" font-weight="bold" fill="#666" textLength="6.24" lengthAdjust="spacingAndGlyphs">A</text>
<path d="M992 130.5 L1004 142.5 L992 154.5 L980 142.5 Z" stroke="#111" stroke-width="1.6" fill="none" />
<text x="988.88" y="146.3" font-size="10.8" font-weight="bold" fill="#666" textLength="6.24" lengthAdjust="spacingAndGlyphs">A</text>
<path d="M253 291 L265 303 L253 315 L241 303 Z" stroke="#111" stroke-width="1.6" fill="none" />
<text x="249.88" y="306.8" font-size="10.8" font-weight="bold" fill="#666" textLength="6.24" lengthAdjust="spacingAndGlyphs">A</text>
<path d="M1088.75 291.2 L1100.75 303.2 L1088.75 315.2 L1076.75 303.2 Z" stroke="#111" stroke-width="1.6" fill="none" />
<text x="1085.63" y="307" font-size="10.8" font-weight="bold" fill="#666" textLength="6.24" lengthAdjust="spacingAndGlyphs">A</text>
<path d="M983.5 491.7 L995.5 503.7 L983.5 515.7 L971.5 503.7 Z" stroke="#111" stroke-width="1.6" fill="#fff" />
<text x="980.38" y="507.5" font-size="10.8" font-weight="bold" fill="#666" textLength="6.24" lengthAdjust="spacingAndGlyphs">A</text>
<path d="M471 591 L483 603 L471 615 L459 603 Z" stroke="#111" stroke-width="1.6" fill="none" />
<text x="467.88" y="606.8" font-size="10.8" font-weight="bold" fill="#666" textLength="6.24" lengthAdjust="spacingAndGlyphs">C</text>
<path d="M796.25 591 L808.25 603 L796.25 615 L784.25 603 Z" stroke="#111" stroke-width="1.6" fill="none" />
<text x="793.13" y="606.8" font-size="10.8" font-weight="bold" fill="#666" textLength="6.24" lengthAdjust="spacingAndGlyphs">C</text>
<path d="M844.4 591 L856.4 603 L844.4 615 L832.4 603 Z" stroke="#111" stroke-width="1.6" fill="none" />
<text x="841.28" y="606.8" font-size="10.8" font-weight="bold" fill="#666" textLength="6.24" lengthAdjust="spacingAndGlyphs">C</text>
<path d="M593.75 616.7 L605.75 628.7 L593.75 640.7 L581.75 628.7 Z" stroke="#111" stroke-width="1.6" fill="none" />
<text x="590.63" y="632.5" font-size="10.8" font-weight="bold" fill="#666" textLength="6.24" lengthAdjust="spacingAndGlyphs">D</text>
<path d="M645.75 616.7 L657.75 628.7 L645.75 640.7 L633.75 628.7 Z" stroke="#111" stroke-width="1.6" fill="none" />
<text x="642.63" y="632.5" font-size="10.8" font-weight="bold" fill="#666" textLength="6.24" lengthAdjust="spacingAndGlyphs">D</text>
<path d="M653.6 11 L683.6 11 L668.6 26 Z" stroke="#111" stroke-width="1" fill="#111" />
<circle cx="668.6" cy="11" r="9.8" stroke="#111" stroke-width="1.3" fill="#fff"/>
<line x1="658.8" y1="11" x2="678.4" y2="11" stroke="#111" stroke-width="1.1" />
<text x="666.55" y="9.4" font-size="8.2" font-weight="bold" stroke="#111" stroke-width="0.3" fill="#111" textLength="4.1" lengthAdjust="spacingAndGlyphs">1</text>
<text x="664.41" y="18.6" font-size="8.2" font-weight="bold" stroke="#111" stroke-width="0.3" fill="#111" textLength="8.39" lengthAdjust="spacingAndGlyphs">A5</text>
<path d="M656.5 721.3 L656.5 751.3 L671.5 736.3 Z" stroke="#111" stroke-width="1" fill="#111" />
<circle cx="656.5" cy="736.3" r="9.8" stroke="#111" stroke-width="1.3" fill="#fff"/>
<line x1="646.7" y1="736.3" x2="666.3" y2="736.3" stroke="#111" stroke-width="1.1" />
<text x="654.45" y="734.7" font-size="8.2" font-weight="bold" stroke="#111" stroke-width="0.3" fill="#111" textLength="4.1" lengthAdjust="spacingAndGlyphs">1</text>
<text x="652.31" y="743.9" font-size="8.2" font-weight="bold" stroke="#111" stroke-width="0.3" fill="#111" textLength="8.39" lengthAdjust="spacingAndGlyphs">A7</text>
<path d="M602 757 L632 757 L617 742 Z" stroke="#111" stroke-width="1" fill="#111" />
<circle cx="617" cy="757" r="9.8" stroke="#111" stroke-width="1.3" fill="#fff"/>
<line x1="607.2" y1="757" x2="626.8" y2="757" stroke="#111" stroke-width="1.1" />
<text x="614.95" y="755.4" font-size="8.2" font-weight="bold" stroke="#111" stroke-width="0.3" fill="#111" textLength="4.1" lengthAdjust="spacingAndGlyphs">3</text>
<text x="612.81" y="764.6" font-size="8.2" font-weight="bold" stroke="#111" stroke-width="0.3" fill="#111" textLength="8.39" lengthAdjust="spacingAndGlyphs">A5</text>
<path d="M10.5 378.75 L10.5 408.75 L25.5 393.75 Z" stroke="#111" stroke-width="1" fill="#111" />
<circle cx="10.5" cy="393.75" r="9.8" stroke="#111" stroke-width="1.3" fill="#fff"/>
<line x1="0.7" y1="393.75" x2="20.3" y2="393.75" stroke="#111" stroke-width="1.1" />
<text x="8.45" y="392.15" font-size="8.2" font-weight="bold" stroke="#111" stroke-width="0.3" fill="#111" textLength="4.1" lengthAdjust="spacingAndGlyphs">4</text>
<text x="6.31" y="401.35" font-size="8.2" font-weight="bold" stroke="#111" stroke-width="0.3" fill="#111" textLength="8.39" lengthAdjust="spacingAndGlyphs">A6</text>
<path d="M1269 378.75 L1269 408.75 L1254 393.75 Z" stroke="#111" stroke-width="1" fill="#111" />
<circle cx="1269" cy="393.75" r="9.8" stroke="#111" stroke-width="1.3" fill="#fff"/>
<line x1="1259.2" y1="393.75" x2="1278.8" y2="393.75" stroke="#111" stroke-width="1.1" />
<text x="1266.95" y="392.15" font-size="8.2" font-weight="bold" stroke="#111" stroke-width="0.3" fill="#111" textLength="4.1" lengthAdjust="spacingAndGlyphs">2</text>
<text x="1264.81" y="401.35" font-size="8.2" font-weight="bold" stroke="#111" stroke-width="0.3" fill="#111" textLength="8.39" lengthAdjust="spacingAndGlyphs">A6</text>
<circle cx="477.7" cy="197.7" r="12" stroke="#555" stroke-width="1.9" fill="none"/>
<text x="475.27" y="201.4" font-size="10.3" font-weight="bold" fill="#555" textLength="4.87" lengthAdjust="spacingAndGlyphs">2</text>
<circle cx="455.7" cy="341.6" r="12" stroke="#555" stroke-width="1.9" fill="none"/>
<text x="453.27" y="345.3" font-size="10.3" font-weight="bold" fill="#555" textLength="4.87" lengthAdjust="spacingAndGlyphs">2</text>
<circle cx="325" cy="373.5" r="12" stroke="#555" stroke-width="1.9" fill="none"/>
<text x="322.57" y="377.2" font-size="10.3" font-weight="bold" fill="#555" textLength="4.87" lengthAdjust="spacingAndGlyphs">3</text>
<circle cx="641.9" cy="299" r="12" stroke="#555" stroke-width="1.9" fill="none"/>
<text x="639.47" y="302.7" font-size="10.3" font-weight="bold" fill="#555" textLength="4.87" lengthAdjust="spacingAndGlyphs">3</text>
<circle cx="683.4" cy="341" r="12" stroke="#555" stroke-width="1.9" fill="none"/>
<text x="680.97" y="344.7" font-size="10.3" font-weight="bold" fill="#555" textLength="4.87" lengthAdjust="spacingAndGlyphs">2</text>
<circle cx="859.5" cy="200.1" r="12" stroke="#555" stroke-width="1.9" fill="none"/>
<text x="857.07" y="203.8" font-size="10.3" font-weight="bold" fill="#555" textLength="4.87" lengthAdjust="spacingAndGlyphs">3</text>
<circle cx="891.2" cy="271" r="12" stroke="#555" stroke-width="1.9" fill="none"/>
<text x="888.77" y="274.7" font-size="10.3" font-weight="bold" fill="#555" textLength="4.87" lengthAdjust="spacingAndGlyphs">3</text>
<circle cx="890.6" cy="366.9" r="12" stroke="#555" stroke-width="1.9" fill="none"/>
<text x="888.17" y="370.6" font-size="10.3" font-weight="bold" fill="#555" textLength="4.87" lengthAdjust="spacingAndGlyphs">2</text>
<circle cx="950.1" cy="430" r="12" stroke="#555" stroke-width="1.9" fill="none"/>
<text x="947.67" y="433.7" font-size="10.3" font-weight="bold" fill="#555" textLength="4.87" lengthAdjust="spacingAndGlyphs">1</text>
<circle cx="283.4" cy="515.9" r="12" stroke="#555" stroke-width="1.9" fill="none"/>
<text x="280.97" y="519.6" font-size="10.3" font-weight="bold" fill="#555" textLength="4.87" lengthAdjust="spacingAndGlyphs">1</text>
<circle cx="370" cy="509" r="12" stroke="#555" stroke-width="1.9" fill="none"/>
<text x="367.57" y="512.7" font-size="10.3" font-weight="bold" fill="#555" textLength="4.87" lengthAdjust="spacingAndGlyphs">2</text>
<circle cx="697.5" cy="463.2" r="12" stroke="#555" stroke-width="1.9" fill="none"/>
<text x="695.07" y="466.9" font-size="10.3" font-weight="bold" fill="#555" textLength="4.87" lengthAdjust="spacingAndGlyphs">4</text>
<circle cx="727.4" cy="553.8" r="12" stroke="#555" stroke-width="1.9" fill="none"/>
<text x="724.97" y="557.5" font-size="10.3" font-weight="bold" fill="#555" textLength="4.87" lengthAdjust="spacingAndGlyphs">4</text>
<circle cx="935" cy="548" r="12" stroke="#555" stroke-width="1.9" fill="none"/>
<text x="932.57" y="551.7" font-size="10.3" font-weight="bold" fill="#555" textLength="4.87" lengthAdjust="spacingAndGlyphs">3</text>
<circle cx="306" cy="172" r="2.4" stroke="#3a3a3a" stroke-width="0.95" fill="#eee"/>
<line x1="306" y1="168.4" x2="306" y2="175.6" stroke="#333" stroke-width="0.8" />
<circle cx="434.4" cy="172" r="2.4" stroke="#3a3a3a" stroke-width="0.95" fill="#eee"/>
<line x1="434.4" y1="168.4" x2="434.4" y2="175.6" stroke="#333" stroke-width="0.8" />
<circle cx="698" cy="172" r="2.4" stroke="#3a3a3a" stroke-width="0.95" fill="#eee"/>
<line x1="698" y1="168.4" x2="698" y2="175.6" stroke="#333" stroke-width="0.8" />
<circle cx="836" cy="172.2" r="2.4" stroke="#3a3a3a" stroke-width="0.95" fill="#eee"/>
<line x1="836" y1="168.6" x2="836" y2="175.8" stroke="#333" stroke-width="0.8" />
<circle cx="943.75" cy="172.2" r="2.4" stroke="#3a3a3a" stroke-width="0.95" fill="#eee"/>
<line x1="943.75" y1="168.6" x2="943.75" y2="175.8" stroke="#333" stroke-width="0.8" />
<circle cx="1024.3" cy="172.2" r="2.4" stroke="#3a3a3a" stroke-width="0.95" fill="#eee"/>
<line x1="1024.3" y1="168.6" x2="1024.3" y2="175.8" stroke="#333" stroke-width="0.8" />
<circle cx="279.3" cy="184.7" r="2.4" stroke="#3a3a3a" stroke-width="0.95" fill="#eee"/>
<line x1="275.7" y1="184.7" x2="282.9" y2="184.7" stroke="#333" stroke-width="0.8" />
<circle cx="279.3" cy="314" r="2.4" stroke="#3a3a3a" stroke-width="0.95" fill="#eee"/>
<line x1="275.7" y1="314" x2="282.9" y2="314" stroke="#333" stroke-width="0.8" />
<circle cx="1060.6" cy="189" r="2.4" stroke="#3a3a3a" stroke-width="0.95" fill="#eee"/>
<line x1="1057" y1="189" x2="1064.2" y2="189" stroke="#333" stroke-width="0.8" />
<circle cx="1060.6" cy="314.7" r="2.4" stroke="#3a3a3a" stroke-width="0.95" fill="#eee"/>
<line x1="1057" y1="314.7" x2="1064.2" y2="314.7" stroke="#333" stroke-width="0.8" />
<circle cx="904" cy="223.5" r="2.4" stroke="#3a3a3a" stroke-width="0.95" fill="#eee"/>
<line x1="900.4" y1="223.5" x2="907.6" y2="223.5" stroke="#333" stroke-width="0.8" />
<circle cx="849.4" cy="294.7" r="2.4" stroke="#3a3a3a" stroke-width="0.95" fill="#eee"/>
<line x1="845.8" y1="294.7" x2="853" y2="294.7" stroke="#333" stroke-width="0.8" />
<circle cx="534.4" cy="314.7" r="2.4" stroke="#3a3a3a" stroke-width="0.95" fill="#eee"/>
<line x1="534.4" y1="311.1" x2="534.4" y2="318.3" stroke="#333" stroke-width="0.8" />
<circle cx="752.5" cy="367.8" r="2.4" stroke="#3a3a3a" stroke-width="0.95" fill="#eee"/>
<line x1="752.5" y1="364.2" x2="752.5" y2="371.4" stroke="#333" stroke-width="0.8" />
<circle cx="752.5" cy="386.2" r="2.4" stroke="#3a3a3a" stroke-width="0.95" fill="#eee"/>
<line x1="752.5" y1="382.6" x2="752.5" y2="389.8" stroke="#333" stroke-width="0.8" />
<circle cx="842" cy="386" r="2.4" stroke="#3a3a3a" stroke-width="0.95" fill="#eee"/>
<line x1="842" y1="382.4" x2="842" y2="389.6" stroke="#333" stroke-width="0.8" />
<circle cx="1024.7" cy="368.4" r="2.4" stroke="#3a3a3a" stroke-width="0.95" fill="#eee"/>
<line x1="1024.7" y1="364.8" x2="1024.7" y2="372" stroke="#333" stroke-width="0.8" />
<path d="M282.1 321 L275.3 324.4 L282.1 327.8 Z" stroke="#333" stroke-width="0.9" fill="#fff" />
<path d="M1057.6 176.6 L1064.4 180 L1057.6 183.4 Z" stroke="#333" stroke-width="0.9" fill="#fff" />
<path d="M684.9 293.1 L678.1 296.5 L684.9 299.9 Z" stroke="#333" stroke-width="0.9" fill="#fff" />
<circle cx="261.8" cy="457.8" r="2.2" stroke="#3a3a3a" stroke-width="0.95" fill="#eee"/>
<line x1="261.8" y1="454.4" x2="261.8" y2="461.2" stroke="#333" stroke-width="0.8" />
<circle cx="259.1" cy="472.8" r="4.2" stroke="#222" stroke-width="1.2" fill="#fff"/>
<text x="246.65" y="452.8" font-size="4.6" font-weight="bold" stroke="#111" stroke-width="0.25" fill="#111" textLength="17.71" lengthAdjust="spacingAndGlyphs">WP/GFCI</text>
<text x="972.65" y="486.2" font-size="4.6" font-weight="bold" stroke="#111" stroke-width="0.25" fill="#111" textLength="17.71" lengthAdjust="spacingAndGlyphs">WP/GFCI</text>
<circle cx="973.2" cy="492.6" r="2" stroke="#3a3a3a" stroke-width="0.95" fill="#eee"/>
<line x1="970" y1="492.6" x2="976.4" y2="492.6" stroke="#333" stroke-width="0.8" />
<circle cx="956" cy="492.6" r="2.2" stroke="#3a3a3a" stroke-width="0.95" fill="#eee"/>
<line x1="952.6" y1="492.6" x2="959.4" y2="492.6" stroke="#333" stroke-width="0.8" />
<circle cx="390.7" cy="349.3" r="4.5" stroke="#111" stroke-width="1.5" fill="#666"/>
<text x="387.98" y="351" font-size="4.6" font-weight="bold" fill="#eee" textLength="5.43" lengthAdjust="spacingAndGlyphs">SD</text>
<circle cx="551" cy="357.8" r="4.5" stroke="#111" stroke-width="1.5" fill="#666"/>
<text x="548.28" y="359.5" font-size="4.6" font-weight="bold" fill="#eee" textLength="5.43" lengthAdjust="spacingAndGlyphs">SD</text>
<circle cx="761" cy="349.6" r="4.5" stroke="#111" stroke-width="1.5" fill="#666"/>
<text x="758.28" y="351.3" font-size="4.6" font-weight="bold" fill="#eee" textLength="5.43" lengthAdjust="spacingAndGlyphs">SD</text>
<circle cx="986.9" cy="341.2" r="4.5" stroke="#111" stroke-width="1.5" fill="#666"/>
<text x="984.18" y="342.9" font-size="4.6" font-weight="bold" fill="#eee" textLength="5.43" lengthAdjust="spacingAndGlyphs">SD</text>
<circle cx="877.5" cy="400.6" r="4.5" stroke="#111" stroke-width="1.5" fill="#666"/>
<text x="874.78" y="402.3" font-size="4.6" font-weight="bold" fill="#eee" textLength="5.43" lengthAdjust="spacingAndGlyphs">SD</text>
<circle cx="545.7" cy="341.3" r="4.2" stroke="#222" stroke-width="1.0" fill="#fff"/>
<text x="543.59" y="343.7" font-size="6.5" font-weight="bold" fill="#222" textLength="4.22" lengthAdjust="spacingAndGlyphs">R</text>
<circle cx="1029.4" cy="431.2" r="4.4" stroke="#222" stroke-width="1.1" fill="none"/>
<line x1="1023.1" y1="424.9" x2="1035.7" y2="437.5" stroke="#222" stroke-width="1.0" />
<line x1="1023.1" y1="437.5" x2="1035.7" y2="424.9" stroke="#222" stroke-width="1.0" />
<text x="485.7" y="253.6" font-size="11.2" font-weight="normal" fill="#111" textLength="51.7" lengthAdjust="spacingAndGlyphs">BATHROOM</text>
<text x="603.4" y="258.5" font-size="11.2" font-weight="normal" fill="#111" textLength="51.7" lengthAdjust="spacingAndGlyphs">BATHROOM</text>
<text x="733.1" y="309" font-size="11.2" font-weight="normal" fill="#111" textLength="46.9" lengthAdjust="spacingAndGlyphs">BEDROOM</text>
<text x="955" y="309" font-size="11.2" font-weight="normal" fill="#111" textLength="47" lengthAdjust="spacingAndGlyphs">BEDROOM</text>
<text x="306.9" y="306.7" font-size="9.8" font-weight="normal" fill="#111" textLength="29.6" lengthAdjust="spacingAndGlyphs">MASTER</text>
<text x="303.1" y="316.1" font-size="9.8" font-weight="normal" fill="#111" textLength="37.5" lengthAdjust="spacingAndGlyphs">BEDROOM</text>
<text x="303.5" y="498.9" font-size="11.2" font-weight="normal" fill="#111" textLength="42.4" lengthAdjust="spacingAndGlyphs">LAUNDRY</text>
<text x="502" y="482.1" font-size="11.2" font-weight="normal" fill="#111" textLength="40.5" lengthAdjust="spacingAndGlyphs">KITCHEN</text>
<text x="817.9" y="429.1" font-size="11.2" font-weight="normal" fill="#111" textLength="29.1" lengthAdjust="spacingAndGlyphs">LIVING</text>
<text x="817.9" y="441" font-size="11.2" font-weight="normal" fill="#111" textLength="27.1" lengthAdjust="spacingAndGlyphs">ROOM</text>
<text x="498.42" y="283.4" font-size="9.4" font-weight="bold" fill="#111" textLength="27.16" lengthAdjust="spacingAndGlyphs">VERIFY</text>
<text x="574.4" y="325.7" font-size="10.8" font-weight="normal" fill="#111" textLength="44.6" lengthAdjust="spacingAndGlyphs">WINDOWS</text>
<text x="626" y="325.7" font-size="10.8" font-weight="normal" fill="#111" textLength="38.4" lengthAdjust="spacingAndGlyphs">ABOVE—</text>
<text x="574.4" y="337.8" font-size="10.8" font-weight="normal" fill="#111" textLength="17.3" lengthAdjust="spacingAndGlyphs">SEE</text>
<text x="599.75" y="337.8" font-size="10.8" font-weight="normal" fill="#111" textLength="30.85" lengthAdjust="spacingAndGlyphs">DETAIL</text>
<text x="574.5" y="590.1" font-size="10.8" font-weight="normal" fill="#111" textLength="38.5" lengthAdjust="spacingAndGlyphs">WINDOW</text>
<text x="620.4" y="590.1" font-size="10.8" font-weight="normal" fill="#111" textLength="27.2" lengthAdjust="spacingAndGlyphs">BOX—</text>
<text x="574.5" y="601.8" font-size="10.8" font-weight="normal" fill="#111" textLength="16.9" lengthAdjust="spacingAndGlyphs">SEE</text>
<text x="599.5" y="601.8" font-size="10.8" font-weight="normal" fill="#111" textLength="31.5" lengthAdjust="spacingAndGlyphs">DETAIL</text>
<text x="651.83" y="233.2" font-size="5.8" font-weight="bold" stroke="#111" stroke-width="0.2" fill="#111" textLength="33.74" lengthAdjust="spacingAndGlyphs" transform="rotate(-90 668.7 233.2)">SHEAR WALL</text>
<text x="651.63" y="508.2" font-size="5.8" font-weight="bold" stroke="#111" stroke-width="0.2" fill="#111" textLength="33.74" lengthAdjust="spacingAndGlyphs" transform="rotate(-90 668.5 508.2)">SHEAR WALL</text>
<line x1="441.3" y1="156" x2="441.3" y2="380" stroke="#1c1c1c" stroke-width="1.4" />
<line x1="438.8" y1="162" x2="443.8" y2="157" stroke="#111" stroke-width="2.1" />
<line x1="438.8" y1="307.3" x2="443.8" y2="302.3" stroke="#111" stroke-width="2.1" />
<line x1="438.8" y1="379.5" x2="443.8" y2="374.5" stroke="#111" stroke-width="2.1" />
<line x1="437.5" y1="304.8" x2="476" y2="304.8" stroke="#1c1c1c" stroke-width="1.4" />
<line x1="437.5" y1="377" x2="476" y2="377" stroke="#1c1c1c" stroke-width="1.4" />
<text x="430.74" y="232.5" font-size="10.0" font-weight="bold" stroke="#0a0a0a" stroke-width="0.55" fill="#0a0a0a" textLength="18.12" lengthAdjust="spacingAndGlyphs" transform="rotate(-90 439.8 232.5)">8'-7&quot;</text>
<text x="430.74" y="342" font-size="10.0" font-weight="bold" stroke="#0a0a0a" stroke-width="0.55" fill="#0a0a0a" textLength="18.12" lengthAdjust="spacingAndGlyphs" transform="rotate(-90 439.8 342)">4'-2&quot;</text>
<line x1="470" y1="284.6" x2="554" y2="284.6" stroke="#222" stroke-width="1.0" />
<line x1="468.3" y1="286.8" x2="472.7" y2="282.4" stroke="#111" stroke-width="1.6" />
<line x1="551.4" y1="286.8" x2="555.8" y2="282.4" stroke="#111" stroke-width="1.6" />
<line x1="565" y1="356.8" x2="675" y2="356.8" stroke="#1c1c1c" stroke-width="1.4" />
<line x1="566.5" y1="359.3" x2="571.5" y2="354.3" stroke="#111" stroke-width="2.1" />
<line x1="668.5" y1="359.3" x2="673.5" y2="354.3" stroke="#111" stroke-width="2.1" />
<text x="610.74" y="354.6" font-size="10.0" font-weight="bold" stroke="#0a0a0a" stroke-width="0.55" fill="#0a0a0a" textLength="18.12" lengthAdjust="spacingAndGlyphs">6'-4&quot;</text>
<line x1="646.2" y1="382" x2="646.2" y2="467" stroke="#1c1c1c" stroke-width="1.4" />
<line x1="642.5" y1="386" x2="668" y2="386" stroke="#1c1c1c" stroke-width="1.4" />
<line x1="642.5" y1="462.9" x2="667.5" y2="462.9" stroke="#1c1c1c" stroke-width="1.4" />
<line x1="643.7" y1="388.5" x2="648.7" y2="383.5" stroke="#111" stroke-width="2.1" />
<line x1="643.7" y1="465.4" x2="648.7" y2="460.4" stroke="#111" stroke-width="2.1" />
<text x="635.54" y="424.4" font-size="10.0" font-weight="bold" stroke="#0a0a0a" stroke-width="0.55" fill="#0a0a0a" textLength="18.12" lengthAdjust="spacingAndGlyphs" transform="rotate(-90 644.6 424.4)">4'-6&quot;</text>
<line x1="748.3" y1="469" x2="748.3" y2="591" stroke="#1c1c1c" stroke-width="1.4" />
<line x1="725" y1="473" x2="752" y2="473" stroke="#1c1c1c" stroke-width="1.4" />
<line x1="745.8" y1="475.5" x2="750.8" y2="470.5" stroke="#111" stroke-width="2.1" />
<line x1="745.8" y1="588.9" x2="750.8" y2="583.9" stroke="#111" stroke-width="2.1" />
<text x="737.64" y="530" font-size="10.0" font-weight="bold" stroke="#0a0a0a" stroke-width="0.55" fill="#0a0a0a" textLength="18.12" lengthAdjust="spacingAndGlyphs" transform="rotate(-90 746.7 530)">6'-6&quot;</text>
<line x1="886" y1="168.7" x2="890" y2="164.7" stroke="#111" stroke-width="1.5" />
<line x1="886" y1="233.9" x2="890" y2="229.9" stroke="#111" stroke-width="1.5" />
<text x="875.1" y="199.7" font-size="10.0" font-weight="bold" stroke="#0a0a0a" stroke-width="0.55" fill="#0a0a0a" textLength="22.79" lengthAdjust="spacingAndGlyphs" transform="rotate(-90 886.5 199.7)">3'-10&quot;</text>
<line x1="871.75" y1="240.7" x2="875.75" y2="236.7" stroke="#111" stroke-width="1.5" />
<line x1="871.75" y1="308.2" x2="875.75" y2="304.2" stroke="#111" stroke-width="1.5" />
<text x="863.14" y="272.5" font-size="10.0" font-weight="bold" stroke="#0a0a0a" stroke-width="0.55" fill="#0a0a0a" textLength="18.12" lengthAdjust="spacingAndGlyphs" transform="rotate(-90 872.2 272.5)">4'-0&quot;</text>
<line x1="916" y1="546.4" x2="920" y2="542.4" stroke="#111" stroke-width="1.5" />
<line x1="916" y1="581" x2="920" y2="577" stroke="#111" stroke-width="1.5" />
<text x="907.44" y="562" font-size="10.0" font-weight="bold" stroke="#0a0a0a" stroke-width="0.55" fill="#0a0a0a" textLength="18.12" lengthAdjust="spacingAndGlyphs" transform="rotate(-90 916.5 562)">2'-0&quot;</text>
<line x1="569" y1="310.5" x2="569" y2="628.5" stroke="#222" stroke-width="1.4" stroke-dasharray="6.5 3"/>
<line x1="671.2" y1="313" x2="671.2" y2="464" stroke="#222" stroke-width="1.4" stroke-dasharray="6.5 3"/>
<line x1="671.2" y1="612.5" x2="671.2" y2="628.5" stroke="#222" stroke-width="1.4" stroke-dasharray="6.5 3"/>
<path d="M369.3 274 L367 296 C366.5 308 370 313.5 377 313.5 C390 313 415 305 434.5 301.7" stroke="#222" stroke-width="1.05" fill="none" stroke-dasharray="7 4"/>
<path d="M439.5 301 L462.5 302.8" stroke="#222" stroke-width="1.05" fill="none" />
<path d="M487 311 C490 340 505 350 520 347.5 C530 346 538 343 541.5 341.5" stroke="#222" stroke-width="1.05" fill="none" stroke-dasharray="7 4"/>
<path d="M549 338 C558 334 563 332 568 333" stroke="#222" stroke-width="1.05" fill="none" stroke-dasharray="7 4"/>
<path d="M572.5 338 C590 365 600 385 617 402 C630 412 645 413 656 412" stroke="#222" stroke-width="1.05" fill="none" stroke-dasharray="7 4"/>
<path d="M474.2 232.5 C480 229 486 228 491 228.5 C498 229.5 502 232 506 231.5 C511 230 514 225 515.3 220.3" stroke="#222" stroke-width="1.05" fill="none" />
<path d="M474.2 238 L494.5 241" stroke="#222" stroke-width="1.05" fill="none" />
<path d="M497 241 C510 241 520 237 527 231 C536 222 540 210 542.2 198.5 C543.5 192 545 187 548.5 184" stroke="#222" stroke-width="1.05" fill="none" stroke-dasharray="7 4"/>
<path d="M554.4 183.3 L568.6 186.8" stroke="#222" stroke-width="1.05" fill="none" />
<path d="M768 271 C785 276 800 284 805 293 C808 303 804 312 797.5 321 C790 330 778 339 767.5 339.4 C757 338 748 331 735 318.7 C728 312 722 306 713 303.5" stroke="#222" stroke-width="1.05" fill="none" stroke-dasharray="7 4"/>
<path d="M709 302 C700 301.5 690 302 680 303.75" stroke="#222" stroke-width="1.05" fill="none" />
<path d="M978 272 C965 274 952 282 942 290 C934 300 928 318 925.6 334.5 L925.5 349" stroke="#222" stroke-width="1.05" fill="none" stroke-dasharray="7 4"/>
<path d="M925.5 349 L925.5 371 M923.8 367.5 L925.5 371.5 L927.2 367.5" stroke="#222" stroke-width="1.05" fill="none" />
<path d="M683.8 384 C684 400 680 412 670 418" stroke="#222" stroke-width="1.05" fill="none" />
<path d="M689 384 C689 405 684 420 672 428" stroke="#222" stroke-width="1.05" fill="none" />
<path d="M694.5 384 C694 410 686 425 674 436" stroke="#222" stroke-width="1.05" fill="none" />
<path d="M700 384 C700.5 396 701 404 703 410 C706 418 710 423 714.5 426" stroke="#222" stroke-width="1.05" fill="none" />
<path d="M714.5 426 C722 430 732 432.5 740.3 434.25 C752 436 764 436.5 775.5 437.75 C786 439 797 440.5 806 443.6 C814 446.5 820 449 824.7 453 C831 458.5 835 464 838.5 472" stroke="#222" stroke-width="1.05" fill="none" stroke-dasharray="7 4"/>
<path d="M596 380 C600 388 607 395 616.5 400.4 C625 405.5 632 409 639.2 411.7 C646 414 651 415 657.3 415 C664 415 671 413 677.7 409.5" stroke="#222" stroke-width="1.05" fill="none" stroke-dasharray="7 4"/>
<path d="M477 476 C477.5 473 478.5 470.5 479.5 468.4 C481 461 482.5 455.5 485.2 450.2 C488.5 444 493 438.5 498.7 434.4 C506 430 515 428 526 427.6 C535 427.3 544 427.4 553 427.6 C560 427.9 566 428.3 571.2 428.7 C583 430 594 431.6 605.2 432.6 C616 433.5 627 434 637 433.7 C645 433.5 651.5 432.5 657.3 431 C664 429 670 426.5 675.5 423" stroke="#222" stroke-width="1.05" fill="none" stroke-dasharray="7 4"/>
<path d="M620.8 504 C621.5 498 622.3 493 623.3 488.75 C624.3 482 625.3 476 626.75 470.6 C628.5 464 631 458 634.7 452.5 C638 447.5 643 443 648.3 439 C654 435 660 431.5 666.4 428.7 C671 426.5 675.5 423.5 680 419.6" stroke="#222" stroke-width="1.05" fill="none" stroke-dasharray="7 4"/>
<path d="M473.5 480.5 C468 482.5 463 483.2 458 483 C450 482.6 442 481 435.3 482 C430 483 425.5 486 421.7 491 C417.5 497 415 504 413.8 511.4 C412 520 410.5 528 409.25 536.3" stroke="#222" stroke-width="1.05" fill="none" stroke-dasharray="7 4"/>
<path d="M409.25 536.3 C408.5 541 407 545 403.6 546.5 C399 548.3 392 548.5 386.5 548" stroke="#222" stroke-width="1.05" fill="none" />
<path d="M843 483.5 C843.2 486 843.3 487 843.4 488 C843.8 494 844.3 499.5 845.8 504.5 C847.5 510 850.5 513.5 855 516.3 C860.5 519.7 867 521.4 874 521.4 C881 521.4 887 519.7 892.6 516.3 C898.5 512.7 903.3 507 906.7 500 C909.7 494 911.5 487.5 913.7 481 C915.7 475.5 918.5 470.5 923 467 C926.5 464.3 930.5 462.9 934.8 462.4" stroke="#222" stroke-width="1.05" fill="none" stroke-dasharray="7 4"/>
<path d="M934.8 462.4 C942 462.5 950 464 957 466" stroke="#222" stroke-width="1.05" fill="none" />
<path d="M931.3 457.7 C931.5 463 933 466.3 936 468 C941 470.6 949 471.3 957 471.3" stroke="#222" stroke-width="1.05" fill="none" />
<path d="M934.8 451.8 C939 449.5 944 447.3 948.9 446 C953 445 957 444.4 960.6 444.3 C975 443.5 995 448 1010.5 454.5" stroke="#222" stroke-width="1.05" fill="none" stroke-dasharray="7 4"/>
<path d="M1017.5 455 C1026 455 1028.5 448 1028.5 436" stroke="#222" stroke-width="1.05" fill="none" />
<path d="M268 500.8 C276 500 284 498.5 291.9 496" stroke="#222" stroke-width="1.05" fill="none" stroke-dasharray="7 4"/>
<path d="M291.9 496 C300 492 308 486.5 316.5 481 C320.5 478.5 324.5 476.3 328.8 474.2" stroke="#222" stroke-width="1.05" fill="none" />
<path d="M328.8 474.2 C332.5 472.3 336 470.6 339.7 469.4" stroke="#222" stroke-width="1.05" fill="none" stroke-dasharray="7 4"/>
<path d="M346.6 469.4 C356 469.8 365 471 373.9 472.8" stroke="#222" stroke-width="1.05" fill="none" />
<path d="M373.9 477.6 C370 478 366.5 478.5 363 479.6 C359.5 481 356.8 483.5 354.8 486.5" stroke="#222" stroke-width="1.05" fill="none" />
<path d="M354.8 486.5 C353.5 490.5 352.8 494.5 352.3 498.8 C351.8 505 351.5 511 350.7 516.5 C350 520.5 348.8 523 346.6 524.7" stroke="#222" stroke-width="1.05" fill="none" stroke-dasharray="7 4"/>
<path d="M346.6 524.7 C343.5 526 340 526 337 525.4 C334 524.6 331.5 523 329.5 521.3" stroke="#222" stroke-width="1.05" fill="none" />
<path d="M259.3 477 C259.2 485 259.8 492 261.8 498" stroke="#222" stroke-width="0.9" fill="none" />
<text x="682.3" y="385.2" font-size="4.5" font-weight="bold" fill="#222" textLength="3" lengthAdjust="spacingAndGlyphs">S</text>
<text x="687.5" y="385.2" font-size="4.5" font-weight="bold" fill="#222" textLength="3" lengthAdjust="spacingAndGlyphs">S</text>
<text x="693" y="385.2" font-size="4.5" font-weight="bold" fill="#222" textLength="3" lengthAdjust="spacingAndGlyphs">S</text>
<text x="698.5" y="385.2" font-size="4.5" font-weight="bold" fill="#222" textLength="3" lengthAdjust="spacingAndGlyphs">S</text>
<text x="60" y="679.3" font-size="20.5" font-weight="normal" fill="#9a9a9a" textLength="295" lengthAdjust="spacingAndGlyphs">Copyright 2007 Vincent Baudoin</text>
<text x="60" y="705.4" font-size="20.5" font-weight="normal" fill="#9a9a9a" textLength="342" lengthAdjust="spacingAndGlyphs">Gulf Coast Community Design Studio</text>
</svg>
</body></html>
